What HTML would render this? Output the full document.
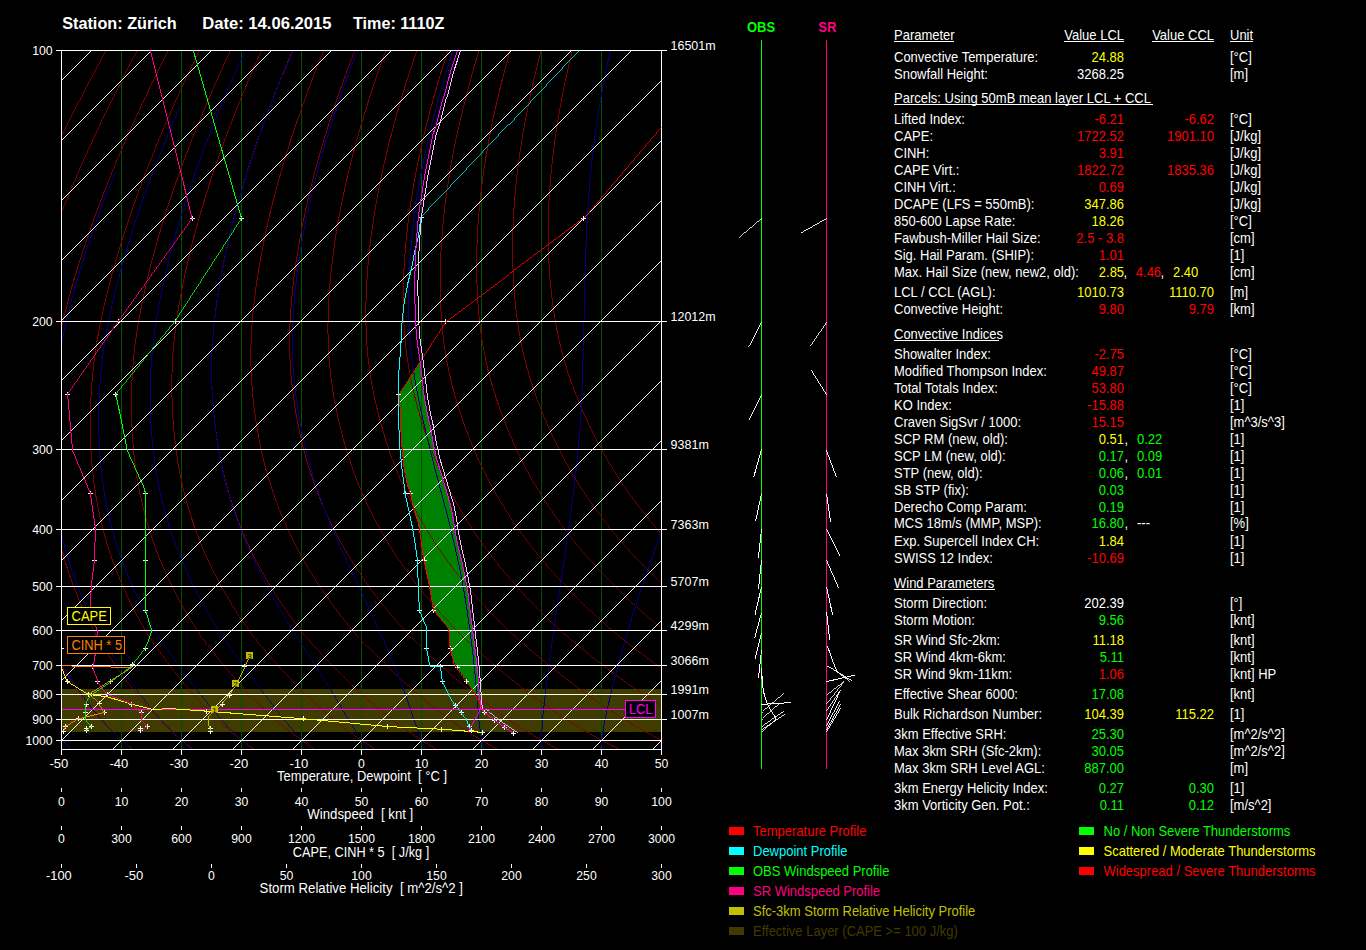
<!DOCTYPE html>
<html><head><meta charset="utf-8"><style>
html,body{margin:0;padding:0;background:#000;}
body{width:1366px;height:950px;overflow:hidden;position:relative;}
svg{position:absolute;left:0;top:0;}
text{font-family:"Liberation Sans",sans-serif;}
</style></head><body>
<svg width="1366" height="950" viewBox="0 0 1366 950" shape-rendering="crispEdges">
<clipPath id="cp"><rect x="61.5" y="50.5" width="600.0" height="699.0"/></clipPath>
<rect x="62" y="689" width="599" height="43" fill="#403c00"/>
<path d="M418.8,363.0 L418.2,364.0 L417.5,365.0 L416.9,366.0 L416.3,367.0 L415.6,368.0 L415.0,369.0 L414.3,370.0 L413.7,371.0 L413.0,372.0 L412.4,373.0 L411.8,374.0 L411.1,375.0 L410.5,376.0 L409.8,377.0 L409.2,378.0 L408.5,379.0 L407.9,380.0 L407.3,381.0 L406.6,382.0 L406.0,383.0 L405.3,384.0 L404.7,385.0 L404.0,386.0 L403.4,387.0 L402.8,388.0 L402.1,389.0 L401.5,390.0 L400.8,391.0 L400.2,392.0 L399.5,393.0 L398.9,394.0 L399.0,395.0 L399.1,396.0 L399.2,397.0 L399.3,398.0 L399.4,399.0 L399.5,400.0 L399.6,401.0 L399.7,402.0 L399.8,403.0 L399.9,404.0 L399.9,405.0 L400.0,406.0 L400.0,407.0 L400.0,408.0 L400.1,409.0 L400.1,410.0 L400.1,411.0 L400.2,412.0 L400.2,413.0 L400.2,414.0 L400.3,415.0 L400.3,416.0 L400.3,417.0 L400.4,418.0 L400.4,419.0 L400.4,420.0 L400.5,421.0 L400.5,422.0 L400.5,423.0 L400.5,424.0 L400.6,425.0 L400.6,426.0 L400.7,427.0 L400.8,428.0 L400.8,429.0 L400.9,430.0 L401.0,431.0 L401.0,432.0 L401.1,433.0 L401.2,434.0 L401.2,435.0 L401.3,436.0 L401.4,437.0 L401.4,438.0 L401.5,439.0 L401.6,440.0 L401.6,441.0 L401.7,442.0 L401.8,443.0 L401.8,444.0 L401.9,445.0 L402.0,446.0 L402.0,447.0 L402.1,448.0 L402.2,449.0 L402.3,450.0 L402.4,451.0 L402.5,452.0 L402.6,453.0 L402.7,454.0 L402.8,455.0 L402.9,456.0 L403.0,457.0 L403.1,458.0 L403.2,459.0 L403.3,460.0 L403.4,461.0 L403.5,462.0 L403.6,463.0 L403.7,464.0 L403.8,465.0 L403.9,466.0 L404.0,467.0 L404.1,468.0 L404.2,469.0 L404.3,470.0 L404.5,471.0 L404.7,472.0 L404.9,473.0 L405.2,474.0 L405.4,475.0 L405.6,476.0 L405.8,477.0 L406.0,478.0 L406.2,479.0 L406.4,480.0 L406.6,481.0 L406.9,482.0 L407.1,483.0 L407.3,484.0 L407.5,485.0 L407.9,486.0 L408.2,487.0 L408.6,488.0 L408.9,489.0 L409.3,490.0 L409.6,491.0 L410.0,492.0 L410.3,493.0 L410.6,494.0 L410.8,495.0 L411.0,496.0 L411.2,497.0 L411.4,498.0 L411.6,499.0 L411.8,500.0 L412.0,501.0 L412.2,502.0 L412.5,503.0 L412.7,504.0 L412.9,505.0 L413.1,506.0 L413.3,507.0 L413.5,508.0 L413.7,509.0 L414.1,510.0 L414.4,511.0 L414.7,512.0 L415.1,513.0 L415.4,514.0 L415.7,515.0 L416.0,516.0 L416.4,517.0 L416.7,518.0 L417.0,519.0 L417.4,520.0 L417.7,521.0 L418.0,522.0 L418.2,523.0 L418.4,524.0 L418.6,525.0 L418.8,526.0 L419.0,527.0 L419.1,528.0 L419.3,529.0 L419.5,530.0 L419.7,531.0 L419.9,532.0 L420.1,533.0 L420.2,534.0 L420.4,535.0 L420.5,536.0 L420.6,537.0 L420.7,538.0 L420.9,539.0 L421.0,540.0 L421.1,541.0 L421.2,542.0 L421.4,543.0 L421.5,544.0 L421.6,545.0 L421.7,546.0 L421.9,547.0 L422.0,548.0 L422.1,549.0 L422.2,550.0 L422.4,551.0 L422.5,552.0 L422.7,553.0 L422.9,554.0 L423.0,555.0 L423.2,556.0 L423.4,557.0 L423.6,558.0 L423.7,559.0 L423.9,560.0 L424.1,561.0 L424.3,562.0 L424.5,563.0 L424.7,564.0 L424.9,565.0 L425.1,566.0 L425.4,567.0 L425.6,568.0 L425.8,569.0 L426.0,570.0 L426.2,571.0 L426.4,572.0 L426.6,573.0 L426.9,574.0 L427.1,575.0 L427.3,576.0 L427.5,577.0 L427.7,578.0 L427.9,579.0 L428.1,580.0 L428.3,581.0 L428.6,582.0 L428.8,583.0 L429.0,584.0 L429.2,585.0 L429.4,586.0 L429.6,587.0 L429.9,588.0 L430.1,589.0 L430.3,590.0 L430.5,591.0 L430.6,592.0 L430.8,593.0 L430.9,594.0 L431.1,595.0 L431.2,596.0 L431.4,597.0 L431.5,598.0 L431.7,599.0 L431.8,600.0 L432.0,601.0 L432.1,602.0 L432.3,603.0 L432.5,604.0 L432.6,605.0 L432.8,606.0 L432.9,607.0 L433.1,608.0 L433.4,609.0 L433.6,610.0 L434.0,611.0 L434.9,612.0 L435.7,613.0 L436.5,614.0 L437.4,615.0 L438.2,616.0 L439.0,617.0 L439.9,618.0 L440.7,619.0 L441.6,620.0 L442.4,621.0 L443.2,622.0 L444.1,623.0 L444.9,624.0 L445.7,625.0 L446.6,626.0 L447.4,627.0 L448.2,628.0 L448.9,629.0 L449.0,630.0 L449.0,631.0 L449.0,632.0 L449.1,633.0 L449.1,634.0 L449.2,635.0 L449.2,636.0 L449.2,637.0 L449.3,638.0 L449.3,639.0 L449.4,640.0 L449.4,641.0 L449.5,642.0 L449.6,643.0 L449.7,644.0 L449.8,645.0 L449.9,646.0 L450.0,647.0 L450.1,648.0 L450.3,649.0 L450.5,650.0 L450.8,651.0 L451.1,652.0 L451.4,653.0 L451.6,654.0 L451.9,655.0 L452.2,656.0 L452.4,657.0 L452.7,658.0 L453.0,659.0 L453.2,660.0 L453.5,661.0 L453.8,662.0 L454.2,663.0 L454.9,664.0 L455.6,665.0 L456.3,666.0 L457.0,667.0 L457.6,668.0 L458.3,669.0 L459.0,670.0 L459.6,671.0 L460.3,672.0 L460.9,673.0 L461.6,674.0 L462.3,675.0 L462.9,676.0 L463.6,677.0 L464.3,678.0 L464.9,679.0 L465.6,680.0 L466.2,681.0 L466.9,682.0 L467.6,683.0 L468.3,684.0 L469.1,685.0 L469.8,686.0 L470.5,687.0 L471.2,688.0 L471.9,689.0 L472.6,690.0 L473.3,691.0 L474.1,692.0 L474.7,693.0 L475.2,694.0 L475.6,695.0 L476.1,696.0 L476.5,697.0 L477.0,698.0 L477.4,699.0 L477.9,700.0 L480.0,700.0 L479.9,699.0 L479.8,698.0 L479.7,697.0 L479.7,696.0 L479.6,695.0 L479.5,694.0 L479.4,693.0 L479.3,692.0 L479.2,691.0 L479.1,690.0 L479.0,689.0 L479.0,688.0 L478.9,687.0 L478.8,686.0 L478.7,685.0 L478.6,684.0 L478.6,683.0 L478.5,682.0 L478.4,681.0 L478.3,680.0 L478.3,679.0 L478.2,678.0 L478.1,677.0 L478.0,676.0 L478.0,675.0 L477.9,674.0 L477.8,673.0 L477.7,672.0 L477.6,671.0 L477.6,670.0 L477.5,669.0 L477.4,668.0 L477.2,667.0 L477.1,666.0 L477.0,665.0 L476.9,664.0 L476.7,663.0 L476.6,662.0 L476.5,661.0 L476.4,660.0 L476.2,659.0 L476.1,658.0 L476.0,657.0 L475.9,656.0 L475.7,655.0 L475.6,654.0 L475.5,653.0 L475.4,652.0 L475.2,651.0 L475.1,650.0 L475.0,649.0 L474.9,648.0 L474.8,647.0 L474.6,646.0 L474.5,645.0 L474.4,644.0 L474.3,643.0 L474.1,642.0 L474.0,641.0 L473.9,640.0 L473.8,639.0 L473.6,638.0 L473.5,637.0 L473.4,636.0 L473.3,635.0 L473.1,634.0 L473.0,633.0 L472.9,632.0 L472.8,631.0 L472.6,630.0 L472.5,629.0 L472.4,628.0 L472.3,627.0 L472.1,626.0 L472.0,625.0 L471.9,624.0 L471.7,623.0 L471.6,622.0 L471.5,621.0 L471.3,620.0 L471.2,619.0 L471.1,618.0 L470.9,617.0 L470.8,616.0 L470.7,615.0 L470.5,614.0 L470.4,613.0 L470.3,612.0 L470.1,611.0 L470.0,610.0 L469.9,609.0 L469.8,608.0 L469.6,607.0 L469.5,606.0 L469.4,605.0 L469.3,604.0 L469.2,603.0 L469.0,602.0 L468.9,601.0 L468.8,600.0 L468.7,599.0 L468.6,598.0 L468.4,597.0 L468.3,596.0 L468.2,595.0 L468.1,594.0 L468.0,593.0 L467.8,592.0 L467.7,591.0 L467.6,590.0 L467.4,589.0 L467.2,588.0 L467.0,587.0 L466.8,586.0 L466.6,585.0 L466.4,584.0 L466.2,583.0 L466.0,582.0 L465.8,581.0 L465.6,580.0 L465.3,579.0 L465.1,578.0 L464.9,577.0 L464.7,576.0 L464.5,575.0 L464.4,574.0 L464.2,573.0 L464.0,572.0 L463.8,571.0 L463.6,570.0 L463.4,569.0 L463.2,568.0 L463.0,567.0 L462.8,566.0 L462.6,565.0 L462.4,564.0 L462.2,563.0 L461.9,562.0 L461.7,561.0 L461.4,560.0 L461.2,559.0 L460.9,558.0 L460.7,557.0 L460.4,556.0 L460.2,555.0 L459.9,554.0 L459.7,553.0 L459.4,552.0 L459.2,551.0 L458.9,550.0 L458.7,549.0 L458.4,548.0 L458.2,547.0 L458.0,546.0 L457.8,545.0 L457.6,544.0 L457.4,543.0 L457.2,542.0 L457.0,541.0 L456.8,540.0 L456.6,539.0 L456.4,538.0 L456.2,537.0 L456.0,536.0 L455.8,535.0 L455.6,534.0 L455.4,533.0 L455.3,532.0 L455.1,531.0 L455.0,530.0 L454.8,529.0 L454.7,528.0 L454.5,527.0 L454.4,526.0 L454.2,525.0 L454.1,524.0 L453.9,523.0 L453.8,522.0 L453.6,521.0 L453.5,520.0 L453.3,519.0 L453.1,518.0 L452.9,517.0 L452.7,516.0 L452.5,515.0 L452.3,514.0 L452.1,513.0 L451.9,512.0 L451.7,511.0 L451.5,510.0 L451.3,509.0 L451.1,508.0 L451.0,507.0 L450.8,506.0 L450.6,505.0 L450.3,504.0 L450.0,503.0 L449.7,502.0 L449.4,501.0 L449.1,500.0 L448.8,499.0 L448.5,498.0 L448.2,497.0 L447.9,496.0 L447.6,495.0 L447.3,494.0 L447.0,493.0 L446.7,492.0 L446.4,491.0 L446.1,490.0 L445.8,489.0 L445.5,488.0 L445.2,487.0 L444.9,486.0 L444.6,485.0 L444.3,484.0 L444.0,483.0 L443.7,482.0 L443.4,481.0 L443.1,480.0 L442.8,479.0 L442.5,478.0 L442.2,477.0 L441.9,476.0 L441.6,475.0 L441.3,474.0 L441.0,473.0 L440.7,472.0 L440.4,471.0 L440.1,470.0 L439.8,469.0 L439.5,468.0 L439.2,467.0 L438.9,466.0 L438.6,465.0 L438.3,464.0 L438.0,463.0 L437.7,462.0 L437.4,461.0 L437.1,460.0 L436.8,459.0 L436.5,458.0 L436.3,457.0 L436.0,456.0 L435.8,455.0 L435.6,454.0 L435.4,453.0 L435.2,452.0 L435.0,451.0 L434.8,450.0 L434.5,449.0 L434.3,448.0 L434.1,447.0 L433.9,446.0 L433.7,445.0 L433.5,444.0 L433.2,443.0 L433.0,442.0 L432.8,441.0 L432.7,440.0 L432.5,439.0 L432.3,438.0 L432.1,437.0 L431.9,436.0 L431.8,435.0 L431.6,434.0 L431.4,433.0 L431.2,432.0 L431.0,431.0 L430.9,430.0 L430.7,429.0 L430.5,428.0 L430.3,427.0 L430.2,426.0 L429.9,425.0 L429.7,424.0 L429.5,423.0 L429.3,422.0 L429.0,421.0 L428.8,420.0 L428.6,419.0 L428.4,418.0 L428.1,417.0 L427.9,416.0 L427.7,415.0 L427.4,414.0 L427.2,413.0 L427.0,412.0 L426.8,411.0 L426.7,410.0 L426.5,409.0 L426.3,408.0 L426.1,407.0 L425.9,406.0 L425.8,405.0 L425.6,404.0 L425.4,403.0 L425.2,402.0 L425.0,401.0 L424.9,400.0 L424.7,399.0 L424.5,398.0 L424.3,397.0 L424.2,396.0 L424.1,395.0 L423.9,394.0 L423.8,393.0 L423.7,392.0 L423.6,391.0 L423.5,390.0 L423.4,389.0 L423.2,388.0 L423.1,387.0 L423.0,386.0 L422.9,385.0 L422.8,384.0 L422.7,383.0 L422.6,382.0 L422.4,381.0 L422.3,380.0 L422.2,379.0 L422.1,378.0 L422.0,377.0 L421.9,376.0 L421.7,375.0 L421.6,374.0 L421.5,373.0 L421.4,372.0 L421.2,371.0 L421.1,370.0 L421.0,369.0 L420.9,368.0 L420.7,367.0 L420.6,366.0 L420.5,365.0 L420.4,364.0 L420.2,363.0 Z" fill="#008000" stroke="none"/>
<g clip-path="url(#cp)" fill="none">
<line x1="121.5" y1="50.5" x2="121.5" y2="749.5" stroke="#005000"/>
<line x1="181.5" y1="50.5" x2="181.5" y2="749.5" stroke="#005000"/>
<line x1="241.5" y1="50.5" x2="241.5" y2="749.5" stroke="#005000"/>
<line x1="301.5" y1="50.5" x2="301.5" y2="749.5" stroke="#005000"/>
<line x1="361.5" y1="50.5" x2="361.5" y2="749.5" stroke="#005000"/>
<line x1="421.5" y1="50.5" x2="421.5" y2="749.5" stroke="#005000"/>
<line x1="481.5" y1="50.5" x2="481.5" y2="749.5" stroke="#005000"/>
<line x1="541.5" y1="50.5" x2="541.5" y2="749.5" stroke="#005000"/>
<line x1="601.5" y1="50.5" x2="601.5" y2="749.5" stroke="#005000"/>
<path d="M49.90,728.14 53.04,731.54 56.25,734.89 59.54,738.20 62.92,741.46 66.36,744.68" stroke="#800000" stroke-width="0.75" fill="none" />
<path d="M38.14,714.08 40.95,717.67 43.85,721.21 46.84,724.70 49.90,728.14 M66.36,744.68 69.89,747.85 73.50,750.98" stroke="#800000" stroke-width="0.8" fill="none" />
<path d="M22.68,691.76 25.14,695.51 27.64,699.26 30.18,703.01 32.77,706.73 35.42,710.42 38.14,714.08" stroke="#800000" stroke-width="0.85" fill="none" />
<path d="M118.72,27.80 114.39,35.52 110.12,43.20 105.92,50.84 101.77,58.43 97.69,65.98 93.67,73.48 89.71,80.94 85.81,88.36 81.97,95.73 78.19,103.07 74.47,110.35 M0.62,653.29 2.64,657.19 4.70,661.08 6.80,664.96 8.93,668.83 11.11,672.69 13.33,676.54 15.59,680.37 17.91,684.18 20.27,687.98 22.68,691.76" stroke="#800000" stroke-width="0.9" fill="none" />
<path d="M74.47,110.35 70.81,117.60 67.21,124.80 63.67,131.96 60.19,139.08 56.77,146.16 53.42,153.20 50.12,160.19 46.88,167.14 43.70,174.05 40.58,180.92 37.52,187.75 34.52,194.54 31.58,201.29 28.70,208.00 25.88,214.66 23.11,221.29 20.41,227.88 17.77,234.42 15.18,240.93 12.65,247.40 10.19,253.83 7.78,260.22 5.43,266.57 3.13,272.88 M-15.22,617.16 -13.68,621.29 -12.10,625.39 -10.46,629.46 -8.76,633.51 -7.00,637.52 -5.17,641.50 -3.29,645.45 -1.36,649.38 0.62,653.29" stroke="#800000" stroke-width="0.95" fill="none" />
<path d="M3.13,272.88 0.90,279.16 -1.28,285.39 -3.39,291.59 -5.45,297.75 -7.45,303.87 -9.39,309.95 -11.28,316.00 -13.10,322.01 -14.86,327.97 -16.53,333.86 -18.12,339.71 -19.64,345.49 -21.09,351.22 -22.46,356.91 -23.76,362.54 -25.00,368.13 -26.16,373.67 -27.27,379.16 -28.31,384.62 -29.28,390.04 -30.20,395.42 -31.07,400.77 -31.87,406.08 -32.63,411.36 -33.33,416.62 -33.99,421.85 -34.59,427.05 -35.15,432.23 -35.67,437.39 -36.15,442.53 -36.58,447.65 -36.97,452.76 -37.30,457.82 -37.57,462.85 -37.78,467.84 -37.93,472.79 -38.01,477.71 -38.05,482.59 -38.02,487.45 -37.95,492.27 -37.81,497.07 -37.63,501.84 -37.40,506.58 -37.11,511.29 -36.78,515.99 -36.40,520.66 -35.97,525.31 -35.50,529.93 -34.97,534.53 -34.39,539.10 -33.75,543.63 -33.05,548.14 -32.29,552.61 -31.49,557.06 -30.63,561.48 -29.72,565.88 -28.77,570.26 -27.76,574.62 -26.72,578.96 -25.63,583.28 -24.50,587.59 -23.32,591.88 -22.10,596.15 -20.82,600.40 -19.50,604.62 -18.12,608.83 -16.70,613.00 -15.22,617.16" stroke="#800000" stroke-width="1.0" fill="none" />
<path d="M99.01,717.67 102.20,721.21 105.47,724.70 108.82,728.14 112.25,731.54 115.76,734.89 119.35,738.20" stroke="#800000" stroke-width="0.75" fill="none" />
<path d="M87.10,703.01 89.97,706.73 92.90,710.42 95.91,714.08 99.01,717.67 M119.35,738.20 123.02,741.46 126.77,744.68 130.60,747.85 134.51,750.98" stroke="#800000" stroke-width="0.8" fill="none" />
<path d="M65.81,672.69 68.30,676.54 70.84,680.37 73.43,684.18 76.07,687.98 78.76,691.76 81.50,695.51 84.28,699.26 87.10,703.01" stroke="#800000" stroke-width="0.85" fill="none" />
<path d="M149.34,27.80 145.17,35.52 141.05,43.20 137.00,50.84 133.01,58.43 129.09,65.98 125.22,73.48 121.41,80.94 M45.32,637.52 47.40,641.50 49.54,645.45 51.74,649.38 53.98,653.29 56.27,657.19 58.59,661.08 60.96,664.96 63.36,668.83 65.81,672.69" stroke="#800000" stroke-width="0.9" fill="none" />
<path d="M121.41,80.94 117.67,88.36 113.99,95.73 110.37,103.07 106.81,110.35 103.31,117.60 99.87,124.80 96.50,131.96 93.18,139.08 89.93,146.16 86.73,153.20 83.60,160.19 80.53,167.14 77.52,174.05 74.57,180.92 71.68,187.75 68.85,194.54 66.08,201.29 63.37,208.00 60.72,214.66 58.13,221.29 55.60,227.88 53.13,234.42 50.72,240.93 48.37,247.40 M29.21,600.40 30.78,604.62 32.41,608.83 34.09,613.00 35.82,617.16 37.60,621.29 39.44,625.39 41.34,629.46 43.30,633.51 45.32,637.52" stroke="#800000" stroke-width="0.95" fill="none" />
<path d="M48.37,247.40 46.08,253.83 43.85,260.22 41.67,266.57 39.56,272.88 37.51,279.16 35.52,285.39 33.58,291.59 31.71,297.75 29.89,303.87 28.14,309.95 26.44,316.00 24.80,322.01 23.24,327.97 21.75,333.86 20.35,339.71 19.02,345.49 17.77,351.22 16.59,356.91 15.48,362.54 14.44,368.13 13.47,373.67 12.56,379.16 11.72,384.62 10.94,390.04 10.22,395.42 9.56,400.77 8.96,406.08 8.40,411.36 7.90,416.62 7.46,421.85 7.05,427.05 6.70,432.23 6.39,437.39 6.12,442.53 5.90,447.65 5.72,452.76 5.60,457.82 5.55,462.85 5.55,467.84 5.62,472.79 5.75,477.71 5.93,482.59 6.18,487.45 6.47,492.27 6.83,497.07 7.23,501.84 7.69,506.58 8.20,511.29 8.75,515.99 9.36,520.66 10.02,525.31 10.72,529.93 11.47,534.53 12.29,539.10 13.16,543.63 14.10,548.14 15.08,552.61 16.13,557.06 17.22,561.48 18.37,565.88 19.56,570.26 20.80,574.62 22.09,578.96 23.42,583.28 24.80,587.59 26.22,591.88 27.69,596.15 29.21,600.40" stroke="#800000" stroke-width="1.0" fill="none" />
<path d="M150.39,710.42 153.68,714.08 157.06,717.67 160.54,721.21 164.11,724.70 167.75,728.14 171.47,731.54" stroke="#800000" stroke-width="0.75" fill="none" />
<path d="M131.87,687.98 134.83,691.76 137.85,695.51 140.91,699.26 144.01,703.01 147.17,706.73 150.39,710.42 M171.47,731.54 175.28,734.89 179.16,738.20 183.13,741.46 187.18,744.68" stroke="#800000" stroke-width="0.8" fill="none" />
<path d="M107.34,653.29 109.89,657.19 112.49,661.08 115.12,664.96 117.80,668.83 120.51,672.69 123.28,676.54 126.09,680.37 128.95,684.18 131.87,687.98 M187.18,744.68 191.30,747.85 195.51,750.98" stroke="#800000" stroke-width="0.85" fill="none" />
<path d="M179.97,27.80 175.95,35.52 171.99,43.20 168.09,50.84 M88.89,621.29 90.99,625.39 93.14,629.46 95.36,633.51 97.64,637.52 99.98,641.50 102.38,645.45 104.84,649.38 107.34,653.29" stroke="#800000" stroke-width="0.9" fill="none" />
<path d="M168.09,50.84 164.25,58.43 160.48,65.98 156.77,73.48 153.12,80.94 149.54,88.36 146.01,95.73 142.55,103.07 139.15,110.35 135.81,117.60 132.54,124.80 129.32,131.96 126.17,139.08 123.08,146.16 120.05,153.20 117.09,160.19 114.18,167.14 111.34,174.05 108.55,180.92 105.83,187.75 103.17,194.54 100.57,201.29 98.03,208.00 95.56,214.66 93.14,221.29 M70.90,578.96 72.47,583.28 74.09,587.59 75.76,591.88 77.48,596.15 79.24,600.40 81.07,604.62 82.94,608.83 84.87,613.00 86.85,617.16 88.89,621.29" stroke="#800000" stroke-width="0.95" fill="none" />
<path d="M93.14,221.29 90.78,227.88 88.49,234.42 86.25,240.93 84.08,247.40 81.97,253.83 79.92,260.22 77.92,266.57 75.99,272.88 74.12,279.16 72.31,285.39 70.56,291.59 68.87,297.75 67.24,303.87 65.67,309.95 64.15,316.00 62.70,322.01 61.33,327.97 60.03,333.86 58.82,339.71 57.68,345.49 56.62,351.22 55.63,356.91 54.72,362.54 53.88,368.13 53.10,373.67 52.39,379.16 51.75,384.62 51.17,390.04 50.65,395.42 50.19,400.77 49.78,406.08 49.44,411.36 49.14,416.62 48.90,421.85 48.70,427.05 48.55,432.23 48.45,437.39 48.40,442.53 48.38,447.65 48.41,452.76 48.51,457.82 48.67,462.85 48.89,467.84 49.17,472.79 49.51,477.71 49.92,482.59 50.38,487.45 50.89,492.27 51.47,497.07 52.09,501.84 52.77,506.58 53.51,511.29 54.29,515.99 55.12,520.66 56.00,525.31 56.93,529.93 57.92,534.53 58.97,539.10 60.07,543.63 61.24,548.14 62.46,552.61 63.74,557.06 65.07,561.48 66.45,565.88 67.89,570.26 69.37,574.62 70.90,578.96" stroke="#800000" stroke-width="1.0" fill="none" />
<path d="M197.55,699.26 200.93,703.01 204.37,706.73 207.87,710.42 211.45,714.08 215.12,717.67 218.89,721.21 222.74,724.70" stroke="#800000" stroke-width="0.75" fill="none" />
<path d="M172.23,668.83 175.22,672.69 178.25,676.54 181.34,680.37 184.47,684.18 187.66,687.98 190.91,691.76 194.21,695.51 197.55,699.26 M222.74,724.70 226.68,728.14 230.69,731.54 234.79,734.89 238.97,738.20" stroke="#800000" stroke-width="0.8" fill="none" />
<path d="M149.95,637.52 152.55,641.50 155.22,645.45 157.94,649.38 160.71,653.29 163.52,657.19 166.39,661.08 169.29,664.96 172.23,668.83 M238.97,738.20 243.23,741.46 247.58,744.68 252.01,747.85 256.52,750.98" stroke="#800000" stroke-width="0.85" fill="none" />
<path d="M133.47,608.83 135.65,613.00 137.89,617.16 140.18,621.29 142.53,625.39 144.94,629.46 147.41,633.51 149.95,637.52" stroke="#800000" stroke-width="0.9" fill="none" />
<path d="M210.59,27.80 206.72,35.52 202.92,43.20 199.17,50.84 195.49,58.43 191.87,65.98 188.32,73.48 184.83,80.94 181.40,88.36 178.04,95.73 174.73,103.07 171.49,110.35 168.32,117.60 165.20,124.80 162.15,131.96 159.16,139.08 156.24,146.16 153.37,153.20 150.57,160.19 147.83,167.14 145.15,174.05 142.54,180.92 139.99,187.75 137.50,194.54 M112.92,561.48 114.54,565.88 116.21,570.26 117.93,574.62 119.70,578.96 121.52,583.28 123.38,587.59 125.30,591.88 127.26,596.15 129.28,600.40 131.35,604.62 133.47,608.83" stroke="#800000" stroke-width="0.95" fill="none" />
<path d="M137.50,194.54 135.07,201.29 132.70,208.00 130.40,214.66 128.15,221.29 125.97,227.88 123.85,234.42 121.79,240.93 119.79,247.40 117.86,253.83 115.98,260.22 114.17,266.57 112.42,272.88 110.73,279.16 109.10,285.39 107.53,291.59 106.03,297.75 104.58,303.87 103.19,309.95 101.87,316.00 100.61,322.01 99.42,327.97 98.31,333.86 97.29,339.71 96.34,345.49 95.47,351.22 94.68,356.91 93.96,362.54 93.31,368.13 92.73,373.67 92.22,379.16 91.78,384.62 91.40,390.04 91.08,395.42 90.82,400.77 90.61,406.08 90.47,411.36 90.38,416.62 90.34,421.85 90.35,427.05 90.41,432.23 90.52,437.39 90.67,442.53 90.86,447.65 91.10,452.76 91.41,457.82 91.78,462.85 92.22,467.84 92.72,472.79 93.28,477.71 93.90,482.59 94.58,487.45 95.31,492.27 96.11,497.07 96.96,501.84 97.86,506.58 98.82,511.29 99.82,515.99 100.88,520.66 101.99,525.31 103.15,529.93 104.37,534.53 105.64,539.10 106.98,543.63 108.38,548.14 109.84,552.61 111.35,557.06 112.92,561.48" stroke="#800000" stroke-width="1.0" fill="none" />
<path d="M240.00,684.18 243.46,687.98 246.98,691.76 250.56,695.51 254.18,699.26 257.85,703.01 261.57,706.73 265.35,710.42 269.22,714.08 273.18,717.67" stroke="#800000" stroke-width="0.75" fill="none" />
<path d="M211.04,649.38 214.07,653.29 217.15,657.19 220.28,661.08 223.45,664.96 226.66,668.83 229.92,672.69 233.23,676.54 236.59,680.37 240.00,684.18 M273.18,717.67 277.23,721.21 281.38,724.70 285.60,728.14 289.91,731.54" stroke="#800000" stroke-width="0.8" fill="none" />
<path d="M194.07,625.39 196.74,629.46 199.47,633.51 202.27,637.52 205.13,641.50 208.05,645.45 211.04,649.38 M289.91,731.54 294.30,734.89 298.78,738.20 303.34,741.46 307.99,744.68 312.71,747.85 317.53,750.98" stroke="#800000" stroke-width="0.85" fill="none" />
<path d="M174.84,591.88 177.05,596.15 179.31,600.40 181.63,604.62 184.00,608.83 186.43,613.00 188.92,617.16 191.47,621.29 194.07,625.39" stroke="#800000" stroke-width="0.9" fill="none" />
<path d="M241.22,27.80 237.50,35.52 233.85,43.20 230.26,50.84 226.73,58.43 223.27,65.98 219.87,73.48 216.54,80.94 213.27,88.36 210.06,95.73 206.92,103.07 203.84,110.35 200.82,117.60 197.87,124.80 194.98,131.96 192.15,139.08 189.39,146.16 186.69,153.20 184.06,160.19 181.48,167.14 178.97,174.05 M153.89,543.63 155.52,548.14 157.22,552.61 158.96,557.06 160.77,561.48 162.63,565.88 164.54,570.26 166.50,574.62 168.51,578.96 170.57,583.28 172.68,587.59 174.84,591.88" stroke="#800000" stroke-width="0.95" fill="none" />
<path d="M178.97,174.05 176.53,180.92 174.14,187.75 171.82,194.54 169.56,201.29 167.37,208.00 165.23,214.66 163.16,221.29 161.16,227.88 159.21,234.42 157.33,240.93 155.51,247.40 153.75,253.83 152.05,260.22 150.42,266.57 148.85,272.88 147.34,279.16 145.89,285.39 144.51,291.59 143.18,297.75 141.92,303.87 140.72,309.95 139.59,316.00 138.51,322.01 137.51,327.97 136.59,333.86 135.76,339.71 135.01,345.49 134.33,351.22 133.73,356.91 133.20,362.54 132.75,368.13 132.37,373.67 132.05,379.16 131.81,384.62 131.62,390.04 131.50,395.42 131.44,400.77 131.44,406.08 131.50,411.36 131.61,416.62 131.78,421.85 132.00,427.05 132.26,432.23 132.58,437.39 132.94,442.53 133.34,447.65 133.80,452.76 134.32,457.82 134.90,462.85 135.55,467.84 136.27,472.79 137.04,477.71 137.88,482.59 138.78,487.45 139.73,492.27 140.75,497.07 141.82,501.84 142.94,506.58 144.13,511.29 145.36,515.99 146.64,520.66 147.98,525.31 149.37,529.93 150.81,534.53 152.32,539.10 153.89,543.63" stroke="#800000" stroke-width="1.0" fill="none" />
<path d="M281.09,668.83 284.62,672.69 288.20,676.54 291.83,680.37 295.52,684.18 299.26,687.98 303.06,691.76 306.92,695.51 310.82,699.26 314.76,703.01 318.77,706.73 322.84,710.42" stroke="#800000" stroke-width="0.75" fill="none" />
<path d="M254.58,637.52 257.71,641.50 260.89,645.45 264.14,649.38 267.43,653.29 270.78,657.19 274.18,661.08 277.61,664.96 281.09,668.83 M322.84,710.42 326.99,714.08 331.23,717.67 335.58,721.21 340.01,724.70" stroke="#800000" stroke-width="0.8" fill="none" />
<path d="M234.53,608.83 237.22,613.00 239.96,617.16 242.76,621.29 245.62,625.39 248.54,629.46 251.53,633.51 254.58,637.52 M340.01,724.70 344.53,728.14 349.13,731.54 353.82,734.89 358.59,738.20 363.45,741.46 368.39,744.68" stroke="#800000" stroke-width="0.85" fill="none" />
<path d="M215.07,574.62 217.32,578.96 219.62,583.28 221.97,587.59 224.37,591.88 226.83,596.15 229.34,600.40 231.91,604.62 234.53,608.83 M368.39,744.68 373.42,747.85 378.54,750.98" stroke="#800000" stroke-width="0.9" fill="none" />
<path d="M271.85,27.80 268.28,35.52 264.78,43.20 261.34,50.84 257.97,58.43 254.66,65.98 251.42,73.48 248.24,80.94 245.13,88.36 242.08,95.73 239.10,103.07 236.18,110.35 233.32,117.60 230.53,124.80 227.81,131.96 225.14,139.08 222.55,146.16 M195.58,529.93 197.26,534.53 199.00,539.10 200.80,543.63 202.67,548.14 204.59,552.61 206.58,557.06 208.62,561.48 210.71,565.88 212.86,570.26 215.07,574.62" stroke="#800000" stroke-width="0.95" fill="none" />
<path d="M222.55,146.16 220.01,153.20 217.54,160.19 215.13,167.14 212.79,174.05 210.51,180.92 208.30,187.75 206.15,194.54 204.06,201.29 202.03,208.00 200.07,214.66 198.18,221.29 196.34,227.88 194.57,234.42 192.87,240.93 191.22,247.40 189.64,253.83 188.12,260.22 186.67,266.57 185.28,272.88 183.95,279.16 182.69,285.39 181.48,291.59 180.34,297.75 179.27,303.87 178.25,309.95 177.30,316.00 176.41,322.01 175.60,327.97 174.87,333.86 174.23,339.71 173.67,345.49 173.18,351.22 172.78,356.91 172.44,362.54 172.19,368.13 172.00,373.67 171.88,379.16 171.83,384.62 171.85,390.04 171.93,395.42 172.07,400.77 172.27,406.08 172.53,411.36 172.85,416.62 173.22,421.85 173.64,427.05 174.12,432.23 174.64,437.39 175.21,442.53 175.82,447.65 176.49,452.76 177.22,457.82 178.02,462.85 178.88,467.84 179.81,472.79 180.81,477.71 181.86,482.59 182.98,487.45 184.15,492.27 185.39,497.07 186.68,501.84 188.03,506.58 189.43,511.29 190.89,515.99 192.41,520.66 193.97,525.31 195.58,529.93" stroke="#800000" stroke-width="1.0" fill="none" />
<path d="M317.23,649.38 320.80,653.29 324.41,657.19 328.07,661.08 331.78,664.96 335.53,668.83 339.32,672.69 343.18,676.54 347.08,680.37 351.04,684.18 355.06,687.98 359.14,691.76 363.27,695.51" stroke="#800000" stroke-width="0.75" fill="none" />
<path d="M297.16,625.39 300.34,629.46 303.58,633.51 306.90,637.52 310.28,641.50 313.73,645.45 317.23,649.38 M363.27,695.51 367.45,699.26 371.68,703.01 375.96,706.73 380.32,710.42 384.76,714.08 389.29,717.67" stroke="#800000" stroke-width="0.8" fill="none" />
<path d="M276.62,596.15 279.37,600.40 282.19,604.62 285.07,608.83 288.00,613.00 290.99,617.16 294.05,621.29 297.16,625.39 M389.29,717.67 393.92,721.21 398.65,724.70 403.46,728.14 408.35,731.54 413.33,734.89 418.40,738.20" stroke="#800000" stroke-width="0.85" fill="none" />
<path d="M254.19,557.06 256.47,561.48 258.80,565.88 261.19,570.26 263.63,574.62 266.13,578.96 268.67,583.28 271.27,587.59 273.91,591.88 276.62,596.15 M418.40,738.20 423.55,741.46 428.80,744.68 434.13,747.85 439.54,750.98" stroke="#800000" stroke-width="0.9" fill="none" />
<path d="M302.47,27.80 299.06,35.52 295.71,43.20 292.43,50.84 289.21,58.43 286.06,65.98 282.97,73.48 279.95,80.94 277.00,88.36 274.11,95.73 271.28,103.07 268.52,110.35 265.83,117.60 263.20,124.80 M236.43,515.99 238.17,520.66 239.96,525.31 241.80,529.93 243.71,534.53 245.68,539.10 247.71,543.63 249.81,548.14 251.97,552.61 254.19,557.06" stroke="#800000" stroke-width="0.95" fill="none" />
<path d="M263.20,124.80 260.63,131.96 258.13,139.08 255.70,146.16 253.33,153.20 251.02,160.19 248.78,167.14 246.61,174.05 244.50,180.92 242.45,187.75 240.47,194.54 238.55,201.29 236.70,208.00 234.91,214.66 233.19,221.29 231.53,227.88 229.93,234.42 228.40,240.93 226.94,247.40 225.53,253.83 224.19,260.22 222.92,266.57 221.71,272.88 220.56,279.16 219.48,285.39 218.46,291.59 217.50,297.75 216.61,303.87 215.78,309.95 215.02,316.00 214.32,322.01 213.69,327.97 213.16,333.86 212.70,339.71 212.33,345.49 212.04,351.22 211.82,356.91 211.69,362.54 211.62,368.13 211.63,373.67 211.71,379.16 211.86,384.62 212.08,390.04 212.36,395.42 212.70,400.77 213.10,406.08 213.57,411.36 214.09,416.62 214.66,421.85 215.29,427.05 215.97,432.23 216.70,437.39 217.48,442.53 218.30,447.65 219.18,452.76 220.12,457.82 221.14,462.85 222.22,467.84 223.36,472.79 224.57,477.71 225.84,482.59 227.18,487.45 228.57,492.27 230.03,497.07 231.54,501.84 233.12,506.58 234.74,511.29 236.43,515.99" stroke="#800000" stroke-width="1.0" fill="none" />
<path d="M359.21,637.52 362.86,641.50 366.57,645.45 370.33,649.38 374.16,653.29 378.04,657.19 381.97,661.08 385.94,664.96 389.96,668.83 394.03,672.69 398.15,676.54 402.33,680.37" stroke="#800000" stroke-width="0.75" fill="none" />
<path d="M338.78,613.00 342.03,617.16 345.33,621.29 348.70,625.39 352.14,629.46 355.64,633.51 359.21,637.52 M402.33,680.37 406.57,684.18 410.86,687.98 415.21,691.76 419.63,695.51 424.09,699.26 428.60,703.01 433.16,706.73 437.80,710.42 442.53,714.08" stroke="#800000" stroke-width="0.8" fill="none" />
<path d="M314.93,578.96 317.72,583.28 320.56,587.59 323.45,591.88 326.40,596.15 329.41,600.40 332.47,604.62 335.60,608.83 338.78,613.00 M442.53,714.08 447.35,717.67 452.27,721.21 457.28,724.70 462.38,728.14 467.57,731.54" stroke="#800000" stroke-width="0.85" fill="none" />
<path d="M294.62,543.63 296.95,548.14 299.35,552.61 301.80,557.06 304.32,561.48 306.89,565.88 309.52,570.26 312.20,574.62 314.93,578.96 M467.57,731.54 472.84,734.89 478.21,738.20 483.66,741.46 489.20,744.68 494.83,747.85 500.55,750.98" stroke="#800000" stroke-width="0.9" fill="none" />
<path d="M333.10,27.80 329.84,35.52 326.64,43.20 323.51,50.84 320.45,58.43 317.45,65.98 314.52,73.48 311.66,80.94 308.86,88.36 306.13,95.73 303.46,103.07 M274.67,497.07 276.41,501.84 278.20,506.58 280.05,511.29 281.96,515.99 283.93,520.66 285.95,525.31 288.02,529.93 290.15,534.53 292.35,539.10 294.62,543.63" stroke="#800000" stroke-width="0.95" fill="none" />
<path d="M303.46,103.07 300.86,110.35 298.33,117.60 295.86,124.80 293.46,131.96 291.12,139.08 288.85,146.16 286.65,153.20 284.51,160.19 282.44,167.14 280.43,174.05 278.49,180.92 276.61,187.75 274.80,194.54 273.05,201.29 271.37,208.00 269.75,214.66 268.20,221.29 266.72,227.88 265.30,234.42 263.94,240.93 262.65,247.40 261.42,253.83 260.26,260.22 259.17,266.57 258.14,272.88 257.17,279.16 256.27,285.39 255.43,291.59 254.66,297.75 253.95,303.87 253.31,309.95 252.73,316.00 252.22,322.01 251.78,327.97 251.44,333.86 251.17,339.71 250.99,345.49 250.89,351.22 250.87,356.91 250.93,362.54 251.06,368.13 251.27,373.67 251.54,379.16 251.89,384.62 252.30,390.04 252.78,395.42 253.33,400.77 253.93,406.08 254.60,411.36 255.32,416.62 256.10,421.85 256.94,427.05 257.83,432.23 258.76,437.39 259.75,442.53 260.79,447.65 261.87,452.76 263.03,457.82 264.25,462.85 265.55,467.84 266.91,472.79 268.33,477.71 269.82,482.59 271.38,487.45 272.99,492.27 274.67,497.07" stroke="#800000" stroke-width="1.0" fill="none" />
<path d="M400.25,625.39 403.94,629.46 407.70,633.51 411.53,637.52 415.43,641.50 419.40,645.45 423.43,649.38 427.52,653.29 431.67,657.19 435.86,661.08 440.10,664.96 444.39,668.83" stroke="#800000" stroke-width="0.75" fill="none" />
<path d="M379.44,600.40 382.75,604.62 386.13,608.83 389.56,613.00 393.06,617.16 396.62,621.29 400.25,625.39 M444.39,668.83 448.73,672.69 453.13,676.54 457.58,680.37 462.09,684.18 466.66,687.98 471.29,691.76 475.98,695.51 480.72,699.26 485.51,703.01" stroke="#800000" stroke-width="0.8" fill="none" />
<path d="M354.97,565.88 357.84,570.26 360.76,574.62 363.74,578.96 366.77,583.28 369.85,587.59 372.99,591.88 376.19,596.15 379.44,600.40 M485.51,703.01 490.36,706.73 495.29,710.42 500.30,714.08 505.40,717.67 510.61,721.21 515.92,724.70" stroke="#800000" stroke-width="0.85" fill="none" />
<path d="M334.24,529.93 336.60,534.53 339.03,539.10 341.53,543.63 344.10,548.14 346.72,552.61 349.41,557.06 352.16,561.48 354.97,565.88 M515.92,724.70 521.31,728.14 526.79,731.54 532.36,734.89 538.02,738.20 543.77,741.46 549.61,744.68 555.54,747.85 561.56,750.98" stroke="#800000" stroke-width="0.9" fill="none" />
<path d="M363.72,27.80 360.61,35.52 357.57,43.20 354.60,50.84 351.69,58.43 348.85,65.98 346.07,73.48 343.37,80.94 M313.81,482.59 315.58,487.45 317.41,492.27 319.31,497.07 321.27,501.84 323.29,506.58 325.36,511.29 327.50,515.99 329.69,520.66 331.93,525.31 334.24,529.93" stroke="#800000" stroke-width="0.95" fill="none" />
<path d="M343.37,80.94 340.72,88.36 338.15,95.73 335.65,103.07 333.21,110.35 330.83,117.60 328.53,124.80 326.29,131.96 324.11,139.08 322.01,146.16 319.97,153.20 317.99,160.19 316.09,167.14 314.25,174.05 312.47,180.92 310.76,187.75 309.12,194.54 307.55,201.29 306.04,208.00 304.59,214.66 303.21,221.29 301.90,227.88 300.66,234.42 299.48,240.93 298.36,247.40 297.32,253.83 296.33,260.22 295.42,266.57 294.57,272.88 293.78,279.16 293.06,285.39 292.41,291.59 291.82,297.75 291.30,303.87 290.84,309.95 290.45,316.00 290.12,322.01 289.88,327.97 289.72,333.86 289.64,339.71 289.65,345.49 289.75,351.22 289.92,356.91 290.17,362.54 290.50,368.13 290.90,373.67 291.37,379.16 291.92,384.62 292.53,390.04 293.21,395.42 293.95,400.77 294.76,406.08 295.63,411.36 296.56,416.62 297.54,421.85 298.58,427.05 299.68,432.23 300.83,437.39 302.02,442.53 303.27,447.65 304.57,452.76 305.93,457.82 307.37,462.85 308.88,467.84 310.46,472.79 312.10,477.71 313.81,482.59" stroke="#800000" stroke-width="1.0" fill="none" />
<path d="M440.35,613.00 444.10,617.16 447.91,621.29 451.79,625.39 455.74,629.46 459.75,633.51 463.85,637.52 468.01,641.50 472.24,645.45 476.53,649.38" stroke="#800000" stroke-width="0.75" fill="none" />
<path d="M415.82,583.28 419.15,587.59 422.53,591.88 425.97,596.15 429.47,600.40 433.04,604.62 436.66,608.83 440.35,613.00 M476.53,649.38 480.89,653.29 485.30,657.19 489.76,661.08 494.27,664.96 498.82,668.83 503.43,672.69 508.10,676.54 512.83,680.37 517.61,684.18 522.46,687.98" stroke="#800000" stroke-width="0.8" fill="none" />
<path d="M394.10,552.61 397.03,557.06 400.01,561.48 403.06,565.88 406.17,570.26 409.33,574.62 412.55,578.96 415.82,583.28 M522.46,687.98 527.36,691.76 532.34,695.51 537.36,699.26 542.43,703.01 547.56,706.73 552.77,710.42 558.07,714.08 563.46,717.67 568.96,721.21" stroke="#800000" stroke-width="0.85" fill="none" />
<path d="M373.03,515.99 375.45,520.66 377.92,525.31 380.45,529.93 383.05,534.53 385.71,539.10 388.44,543.63 391.24,548.14 394.10,552.61 M568.96,721.21 574.55,724.70 580.23,728.14 586.01,731.54 591.87,734.89 597.83,738.20 603.87,741.46 610.01,744.68" stroke="#800000" stroke-width="0.9" fill="none" />
<path d="M394.35,27.80 391.39,35.52 388.50,43.20 385.68,50.84 382.93,58.43 M352.21,467.84 354.00,472.79 355.86,477.71 357.79,482.59 359.78,487.45 361.83,492.27 363.95,497.07 366.13,501.84 368.37,506.58 370.67,511.29 373.03,515.99 M610.01,744.68 616.24,747.85 622.56,750.98" stroke="#800000" stroke-width="0.95" fill="none" />
<path d="M382.93,58.43 380.24,65.98 377.62,73.48 375.07,80.94 372.59,88.36 370.17,95.73 367.83,103.07 365.55,110.35 363.34,117.60 361.19,124.80 359.11,131.96 357.10,139.08 355.16,146.16 353.29,153.20 351.48,160.19 349.74,167.14 348.06,174.05 346.46,180.92 344.92,187.75 343.45,194.54 342.04,201.29 340.70,208.00 339.43,214.66 338.23,221.29 337.09,227.88 336.02,234.42 335.01,240.93 334.08,247.40 333.21,253.83 332.40,260.22 331.67,266.57 331.00,272.88 330.39,279.16 329.85,285.39 329.38,291.59 328.98,297.75 328.64,303.87 328.37,309.95 328.16,316.00 328.03,322.01 327.97,327.97 328.00,333.86 328.11,339.71 328.32,345.49 328.60,351.22 328.97,356.91 329.41,362.54 329.93,368.13 330.53,373.67 331.20,379.16 331.94,384.62 332.75,390.04 333.63,395.42 334.58,400.77 335.59,406.08 336.66,411.36 337.79,416.62 338.98,421.85 340.23,427.05 341.53,432.23 342.89,437.39 344.29,442.53 345.75,447.65 347.26,452.76 348.84,457.82 350.49,462.85 352.21,467.84" stroke="#800000" stroke-width="1.0" fill="none" />
<path d="M479.51,600.40 483.32,604.62 487.19,608.83 491.13,613.00 495.13,617.16 499.20,621.29 503.33,625.39 507.54,629.46 511.81,633.51 516.16,637.52" stroke="#800000" stroke-width="0.75" fill="none" />
<path d="M454.49,570.26 457.90,574.62 461.36,578.96 464.87,583.28 468.44,587.59 472.07,591.88 475.76,596.15 479.51,600.40 M516.16,637.52 520.58,641.50 525.08,645.45 529.63,649.38 534.25,653.29 538.93,657.19 543.65,661.08 548.43,664.96 553.25,668.83 558.14,672.69 563.08,676.54" stroke="#800000" stroke-width="0.8" fill="none" />
<path d="M432.39,539.10 435.35,543.63 438.38,548.14 441.48,552.61 444.64,557.06 447.86,561.48 451.15,565.88 454.49,570.26 M563.08,676.54 568.07,680.37 573.13,684.18 578.25,687.98 583.44,691.76 588.69,695.51 593.99,699.26 599.34,703.01 604.76,706.73 610.25,710.42 615.83,714.08" stroke="#800000" stroke-width="0.85" fill="none" />
<path d="M410.99,501.84 413.46,506.58 415.98,511.29 418.57,515.99 421.21,520.66 423.91,525.31 426.67,529.93 429.49,534.53 432.39,539.10 M615.83,714.08 621.51,717.67 627.30,721.21 633.19,724.70 639.16,728.14 645.23,731.54 651.39,734.89 657.64,738.20 663.98,741.46" stroke="#800000" stroke-width="0.9" fill="none" />
<path d="M424.97,27.80 422.17,35.52 M391.74,457.82 393.61,462.85 395.54,467.84 397.55,472.79 399.63,477.71 401.77,482.59 403.98,487.45 406.25,492.27 408.59,497.07 410.99,501.84 M663.98,741.46 670.42,744.68 676.95,747.85 683.57,750.98" stroke="#800000" stroke-width="0.95" fill="none" />
<path d="M422.17,35.52 419.43,43.20 416.76,50.84 414.17,58.43 411.64,65.98 409.17,73.48 406.78,80.94 404.45,88.36 402.20,95.73 400.01,103.07 397.89,110.35 395.84,117.60 393.86,124.80 391.94,131.96 390.09,139.08 388.32,146.16 386.61,153.20 384.96,160.19 383.39,167.14 381.88,174.05 380.44,180.92 379.07,187.75 377.77,194.54 376.54,201.29 375.37,208.00 374.27,214.66 373.24,221.29 372.28,227.88 371.38,234.42 370.55,240.93 369.79,247.40 369.10,253.83 368.47,260.22 367.91,266.57 367.42,272.88 367.00,279.16 366.65,285.39 366.36,291.59 366.14,297.75 365.98,303.87 365.90,309.95 365.88,316.00 365.93,322.01 366.06,327.97 366.28,333.86 366.59,339.71 366.98,345.49 367.46,351.22 368.01,356.91 368.65,362.54 369.37,368.13 370.16,373.67 371.03,379.16 371.97,384.62 372.98,390.04 374.06,395.42 375.21,400.77 376.42,406.08 377.69,411.36 379.03,416.62 380.43,421.85 381.88,427.05 383.39,432.23 384.95,437.39 386.57,442.53 388.23,447.65 389.95,452.76 391.74,457.82" stroke="#800000" stroke-width="1.0" fill="none" />
<path d="M517.74,587.59 521.61,591.88 525.54,596.15 529.54,600.40 533.60,604.62 537.72,608.83 541.91,613.00 546.17,617.16 550.49,621.29 554.88,625.39 559.34,629.46" stroke="#800000" stroke-width="0.75" fill="none" />
<path d="M492.25,557.06 495.71,561.48 499.24,565.88 502.82,570.26 506.46,574.62 510.16,578.96 513.92,583.28 517.74,587.59 M559.34,629.46 563.87,633.51 568.48,637.52 573.16,641.50 577.91,645.45 582.73,649.38 587.61,653.29 592.55,657.19 597.55,661.08" stroke="#800000" stroke-width="0.8" fill="none" />
<path d="M469.90,525.31 472.89,529.93 475.94,534.53 479.06,539.10 482.26,543.63 485.52,548.14 488.86,552.61 492.25,557.06 M597.55,661.08 602.59,664.96 607.69,668.83 612.84,672.69 618.05,676.54 623.32,680.37 628.66,684.18 634.05,687.98 639.52,691.76 645.04,695.51 650.63,699.26 656.26,703.01 661.96,706.73" stroke="#800000" stroke-width="0.85" fill="none" />
<path d="M448.18,487.45 450.67,492.27 453.23,497.07 455.86,501.84 458.54,506.58 461.29,511.29 464.10,515.99 466.97,520.66 469.90,525.31 M661.96,706.73 667.74,710.42 673.60,714.08 679.57,717.67 685.65,721.21 691.82,724.70 698.09,728.14 704.45,731.54 710.90,734.89" stroke="#800000" stroke-width="0.9" fill="none" />
<path d="M428.84,442.53 430.71,447.65 432.64,452.76 434.65,457.82 436.73,462.85 438.88,467.84 441.10,472.79 443.39,477.71 445.75,482.59 448.18,487.45 M710.90,734.89 717.45,738.20 724.09,741.46 730.82,744.68 737.65,747.85 744.58,750.98" stroke="#800000" stroke-width="0.95" fill="none" />
<path d="M455.60,27.80 452.95,35.52 450.36,43.20 447.85,50.84 445.40,58.43 443.03,65.98 440.72,73.48 438.49,80.94 436.32,88.36 434.22,95.73 432.19,103.07 430.23,110.35 428.34,117.60 426.52,124.80 424.77,131.96 423.08,139.08 421.47,146.16 419.92,153.20 418.45,160.19 417.04,167.14 415.70,174.05 414.43,180.92 413.23,187.75 412.10,194.54 411.03,201.29 410.04,208.00 409.11,214.66 408.25,221.29 407.46,227.88 406.74,234.42 406.09,240.93 405.50,247.40 404.99,253.83 404.54,260.22 404.16,266.57 403.85,272.88 403.61,279.16 403.44,285.39 403.33,291.59 403.30,297.75 403.33,303.87 403.43,309.95 403.60,316.00 403.83,322.01 404.15,327.97 404.56,333.86 405.06,339.71 405.64,345.49 406.31,351.22 407.06,356.91 407.89,362.54 408.81,368.13 409.80,373.67 410.86,379.16 412.00,384.62 413.21,390.04 414.49,395.42 415.84,400.77 417.25,406.08 418.73,411.36 420.27,416.62 421.87,421.85 423.53,427.05 425.24,432.23 427.01,437.39 428.84,442.53" stroke="#800000" stroke-width="1.0" fill="none" />
<path d="M555.03,574.62 558.97,578.96 562.97,583.28 567.03,587.59 571.15,591.88 575.33,596.15 579.57,600.40 583.88,604.62 588.25,608.83 592.69,613.00 597.20,617.16 601.78,621.29" stroke="#800000" stroke-width="0.75" fill="none" />
<path d="M529.17,543.63 532.67,548.14 536.23,552.61 539.86,557.06 543.56,561.48 547.32,565.88 551.15,570.26 555.03,574.62 M601.78,621.29 606.42,625.39 611.14,629.46 615.93,633.51 620.79,637.52 625.74,641.50 630.75,645.45 635.83,649.38" stroke="#800000" stroke-width="0.8" fill="none" />
<path d="M506.60,511.29 509.64,515.99 512.73,520.66 515.89,525.31 519.10,529.93 522.39,534.53 525.74,539.10 529.17,543.63 M635.83,649.38 640.98,653.29 646.18,657.19 651.44,661.08 656.76,664.96 662.12,668.83 667.54,672.69 673.03,676.54 678.57,680.37 684.18,684.18 689.85,687.98 695.59,691.76 701.40,695.51" stroke="#800000" stroke-width="0.85" fill="none" />
<path d="M484.65,472.79 487.15,477.71 489.73,482.59 492.38,487.45 495.09,492.27 497.87,497.07 500.72,501.84 503.63,506.58 506.60,511.29 M701.40,695.51 707.26,699.26 713.18,703.01 719.16,706.73 725.22,710.42 731.37,714.08 737.63,717.67 743.99,721.21 750.46,724.70 757.01,728.14 763.66,731.54" stroke="#800000" stroke-width="0.9" fill="none" />
<path d="M465.17,427.05 467.10,432.23 469.07,437.39 471.11,442.53 473.19,447.65 475.34,452.76 477.55,457.82 479.84,462.85 482.21,467.84 484.65,472.79 M763.66,731.54 770.41,734.89 777.25,738.20 784.19,741.46 791.23,744.68 798.36,747.85 805.59,750.98" stroke="#800000" stroke-width="0.95" fill="none" />
<path d="M486.23,27.80 483.73,35.52 481.29,43.20 478.93,50.84 476.64,58.43 474.42,65.98 472.27,73.48 470.19,80.94 468.18,88.36 466.24,95.73 464.38,103.07 462.58,110.35 460.85,117.60 459.19,124.80 457.60,131.96 456.07,139.08 454.62,146.16 453.24,153.20 451.93,160.19 450.69,167.14 449.52,174.05 448.42,180.92 447.38,187.75 446.42,194.54 445.53,201.29 444.70,208.00 443.95,214.66 443.26,221.29 442.65,227.88 442.10,234.42 441.63,240.93 441.22,247.40 440.88,253.83 440.61,260.22 440.41,266.57 440.28,272.88 440.22,279.16 440.23,285.39 440.31,291.59 440.46,297.75 440.67,303.87 440.96,309.95 441.31,316.00 441.73,322.01 442.24,327.97 442.84,333.86 443.53,339.71 444.30,345.49 445.16,351.22 446.11,356.91 447.14,362.54 448.24,368.13 449.43,373.67 450.69,379.16 452.03,384.62 453.43,390.04 454.91,395.42 456.46,400.77 458.08,406.08 459.76,411.36 461.50,416.62 463.31,421.85 465.17,427.05" stroke="#800000" stroke-width="1.0" fill="none" />
<path d="M591.41,561.48 595.41,565.88 599.47,570.26 603.60,574.62 607.78,578.96 612.02,583.28 616.32,587.59 620.69,591.88 625.11,596.15 629.60,600.40 634.16,604.62 638.78,608.83" stroke="#800000" stroke-width="0.75" fill="none" />
<path d="M568.83,534.53 572.42,539.10 576.08,543.63 579.81,548.14 583.61,552.61 587.48,557.06 591.41,561.48 M638.78,608.83 643.48,613.00 648.24,617.16 653.06,621.29 657.96,625.39 662.94,629.46 667.98,633.51 673.11,637.52" stroke="#800000" stroke-width="0.8" fill="none" />
<path d="M542.51,497.07 545.58,501.84 548.71,506.58 551.91,511.29 555.17,515.99 558.49,520.66 561.88,525.31 565.32,529.93 568.83,534.53 M673.11,637.52 678.31,641.50 683.59,645.45 688.93,649.38 694.34,653.29 699.81,657.19 705.34,661.08 710.92,664.96 716.55,668.83 722.25,672.69 728.00,676.54 733.82,680.37 739.70,684.18" stroke="#800000" stroke-width="0.85" fill="none" />
<path d="M522.96,462.85 525.54,467.84 528.19,472.79 530.92,477.71 533.71,482.59 536.58,487.45 539.51,492.27 542.51,497.07 M739.70,684.18 745.65,687.98 751.67,691.76 757.75,695.51 763.90,699.26 770.09,703.01 776.36,706.73 782.70,710.42 789.14,714.08 795.68,717.67 802.34,721.21 809.09,724.70" stroke="#800000" stroke-width="0.9" fill="none" />
<path d="M500.79,411.36 502.74,416.62 504.75,421.85 506.82,427.05 508.95,432.23 511.14,437.39 513.38,442.53 515.67,447.65 518.03,452.76 520.46,457.82 522.96,462.85 M809.09,724.70 815.94,728.14 822.88,731.54 829.93,734.89 837.06,738.20 844.30,741.46 851.63,744.68 859.06,747.85 866.59,750.98" stroke="#800000" stroke-width="0.95" fill="none" />
<path d="M516.85,27.80 514.50,35.52 512.23,43.20 510.02,50.84 507.88,58.43 505.82,65.98 503.82,73.48 501.90,80.94 500.05,88.36 498.27,95.73 496.56,103.07 494.92,110.35 493.35,117.60 491.85,124.80 490.42,131.96 489.06,139.08 487.78,146.16 486.56,153.20 485.42,160.19 484.34,167.14 483.34,174.05 482.40,180.92 481.54,187.75 480.75,194.54 480.02,201.29 479.37,208.00 478.79,214.66 478.28,221.29 477.84,227.88 477.46,234.42 477.16,240.93 476.93,247.40 476.77,253.83 476.68,260.22 476.66,266.57 476.71,272.88 476.83,279.16 477.02,285.39 477.28,291.59 477.61,297.75 478.01,303.87 478.49,309.95 479.03,316.00 479.64,322.01 480.33,327.97 481.12,333.86 482.00,339.71 482.97,345.49 484.02,351.22 485.16,356.91 486.38,362.54 487.68,368.13 489.06,373.67 490.52,379.16 492.05,384.62 493.66,390.04 495.34,395.42 497.09,400.77 498.91,406.08 500.79,411.36" stroke="#800000" stroke-width="1.0" fill="none" />
<path d="M630.99,552.61 635.09,557.06 639.26,561.48 643.50,565.88 647.80,570.26 652.16,574.62 656.59,578.96 661.07,583.28 665.62,587.59 670.22,591.88 674.90,596.15" stroke="#800000" stroke-width="0.75" fill="none" />
<path d="M604.25,520.66 607.87,525.31 611.54,529.93 615.28,534.53 619.10,539.10 622.99,543.63 626.95,548.14 630.99,552.61 M674.90,596.15 679.64,600.40 684.44,604.62 689.32,608.83 694.26,613.00 699.27,617.16 704.35,621.29 709.51,625.39 714.74,629.46" stroke="#800000" stroke-width="0.8" fill="none" />
<path d="M580.78,487.45 583.93,492.27 587.15,497.07 590.44,501.84 593.80,506.58 597.22,511.29 600.71,515.99 604.25,520.66 M714.74,629.46 720.04,633.51 725.42,637.52 730.89,641.50 736.42,645.45 742.03,649.38 747.71,653.29 753.44,657.19 759.23,661.08 765.08,664.96 770.98,668.83 776.95,672.69" stroke="#800000" stroke-width="0.85" fill="none" />
<path d="M560.72,452.76 563.36,457.82 566.08,462.85 568.87,467.84 571.74,472.79 574.68,477.71 577.69,482.59 580.78,487.45 M776.95,672.69 782.98,676.54 789.07,680.37 795.22,684.18 801.45,687.98 807.74,691.76 814.11,695.51 820.53,699.26 827.01,703.01 833.56,706.73 840.19,710.42 846.91,714.08 853.74,717.67 860.68,721.21" stroke="#800000" stroke-width="0.9" fill="none" />
<path d="M535.77,395.42 537.72,400.77 539.74,406.08 541.82,411.36 543.98,416.62 546.19,421.85 548.47,427.05 550.80,432.23 553.20,437.39 555.65,442.53 558.16,447.65 560.72,452.76 M860.68,721.21 867.72,724.70 874.87,728.14 882.10,731.54 889.44,734.89 896.87,738.20 904.41,741.46 912.04,744.68 919.77,747.85 927.60,750.98" stroke="#800000" stroke-width="0.95" fill="none" />
<path d="M547.48,27.80 545.28,35.52 543.16,43.20 541.10,50.84 539.12,58.43 537.21,65.98 535.38,73.48 533.61,80.94 531.91,88.36 530.29,95.73 528.74,103.07 527.26,110.35 525.85,117.60 524.51,124.80 523.25,131.96 522.06,139.08 520.93,146.16 519.88,153.20 518.90,160.19 517.99,167.14 517.16,174.05 516.39,180.92 515.69,187.75 515.07,194.54 514.52,201.29 514.04,208.00 513.63,214.66 513.29,221.29 513.02,227.88 512.83,234.42 512.70,240.93 512.65,247.40 512.66,253.83 512.75,260.22 512.91,266.57 513.14,272.88 513.44,279.16 513.81,285.39 514.26,291.59 514.77,297.75 515.36,303.87 516.01,309.95 516.74,316.00 517.54,322.01 518.42,327.97 519.40,333.86 520.47,339.71 521.63,345.49 522.87,351.22 524.20,356.91 525.62,362.54 527.12,368.13 528.69,373.67 530.35,379.16 532.08,384.62 533.89,390.04 535.77,395.42" stroke="#800000" stroke-width="1.0" fill="none" />
<path d="M665.78,539.10 669.90,543.63 674.10,548.14 678.36,552.61 682.70,557.06 687.11,561.48 691.58,565.88 696.12,570.26 700.73,574.62 705.40,578.96 710.12,583.28" stroke="#800000" stroke-width="0.75" fill="none" />
<path d="M638.88,506.58 642.53,511.29 646.24,515.99 650.02,520.66 653.85,525.31 657.75,529.93 661.73,534.53 665.78,539.10 M710.12,583.28 714.91,587.59 719.76,591.88 724.68,596.15 729.67,600.40 734.72,604.62 739.85,608.83 745.04,613.00 750.30,617.16 755.64,621.29" stroke="#800000" stroke-width="0.8" fill="none" />
<path d="M618.45,477.71 621.68,482.59 624.98,487.45 628.35,492.27 631.79,497.07 635.31,501.84 638.88,506.58 M755.64,621.29 761.05,625.39 766.53,629.46 772.10,633.51 777.74,637.52 783.46,641.50 789.26,645.45 795.13,649.38 801.07,653.29 807.07,657.19" stroke="#800000" stroke-width="0.85" fill="none" />
<path d="M595.26,437.39 597.92,442.53 600.64,447.65 603.41,452.76 606.27,457.82 609.20,462.85 612.21,467.84 615.29,472.79 618.45,477.71 M807.07,657.19 813.13,661.08 819.24,664.96 825.42,668.83 831.65,672.69 837.95,676.54 844.31,680.37 850.75,684.18 857.25,687.98 863.82,691.76 870.46,695.51 877.16,699.26 883.93,703.01 890.76,706.73 897.67,710.42 904.68,714.08" stroke="#800000" stroke-width="0.9" fill="none" />
<path d="M572.11,384.62 574.11,390.04 576.19,395.42 578.34,400.77 580.57,406.08 582.86,411.36 585.21,416.62 587.63,421.85 590.11,427.05 592.66,432.23 595.26,437.39 M904.68,714.08 911.80,717.67 919.03,721.21 926.36,724.70 933.79,728.14 941.32,731.54 948.95,734.89 956.68,738.20 964.51,741.46 972.44,744.68 980.48,747.85 988.61,750.98" stroke="#800000" stroke-width="0.95" fill="none" />
<path d="M578.10,27.80 576.06,35.52 574.09,43.20 572.19,50.84 570.36,58.43 568.61,65.98 566.93,73.48 565.32,80.94 563.78,88.36 562.31,95.73 560.92,103.07 559.60,110.35 558.35,117.60 557.18,124.80 556.08,131.96 555.05,139.08 554.09,146.16 553.20,153.20 552.39,160.19 551.64,167.14 550.97,174.05 550.38,180.92 549.85,187.75 549.40,194.54 549.01,201.29 548.71,208.00 548.47,214.66 548.30,221.29 548.21,227.88 548.19,234.42 548.24,240.93 548.36,247.40 548.55,253.83 548.82,260.22 549.16,266.57 549.57,272.88 550.05,279.16 550.61,285.39 551.23,291.59 551.93,297.75 552.70,303.87 553.54,309.95 554.46,316.00 555.44,322.01 556.52,327.97 557.68,333.86 558.94,339.71 560.29,345.49 561.73,351.22 563.25,356.91 564.86,362.54 566.55,368.13 568.33,373.67 570.18,379.16 572.11,384.62" stroke="#800000" stroke-width="1.0" fill="none" />
<path d="M69.76,747.89 68.61,746.84 67.45,745.78 66.30,744.71 65.15,743.62 64.00,742.53 62.85,741.42 61.70,740.30 60.55,739.17 59.41,738.02 58.27,736.87 57.13,735.70 55.99,734.52 54.85,733.32 53.72,732.11 52.59,730.89 51.46,729.65" stroke="#000080" stroke-width="0.75" fill="none" />
<path d="M73.24,750.98 72.08,749.96 70.92,748.93 69.76,747.89 M51.46,729.65 50.33,728.40 49.21,727.14 48.09,725.86 46.97,724.57 45.86,723.26 44.74,721.94 43.64,720.60 42.53,719.25 41.43,717.87 40.34,716.48" stroke="#000080" stroke-width="0.8" fill="none" />
<path d="M40.34,716.48 39.25,715.07 38.17,713.65 37.10,712.20 36.03,710.74 34.96,709.25 33.90,707.76 32.84,706.24 31.78,704.71 30.73,703.17 29.67,701.61 28.62,700.04 27.56,698.45 26.50,696.85 25.44,695.24 24.38,693.62 23.32,691.98" stroke="#000080" stroke-width="0.85" fill="none" />
<path d="M23.32,691.98 22.26,690.32 21.20,688.65 20.14,686.96 19.09,685.25 18.03,683.53 16.98,681.79 15.93,680.03 14.88,678.25 13.83,676.45 12.78,674.64 11.74,672.81 10.69,670.96 9.65,669.09 8.61,667.21 7.57,665.30 6.52,663.38 5.48,661.43 4.44,659.47 3.40,657.49 2.35,655.49 1.31,653.47" stroke="#000080" stroke-width="0.9" fill="none" />
<path d="M1.31,653.47 0.28,651.43 -0.76,649.36 -1.79,647.27 -2.82,645.16 -3.84,643.01 -4.85,640.84 -5.86,638.64 -6.86,636.41 -7.85,634.15 -8.83,631.85 -9.80,629.52 -10.75,627.15 -11.70,624.76 -12.64,622.32 -13.57,619.86 -14.49,617.35" stroke="#000080" stroke-width="0.95" fill="none" />
<path d="M-14.49,617.35 -15.40,614.82 -16.30,612.24 -17.19,609.63 -18.07,606.98 -18.94,604.29 -19.80,601.56 -20.64,598.79 -21.48,595.98 -22.30,593.13 -23.11,590.23 -23.91,587.29 -24.69,584.31 -25.46,581.28 -26.23,578.20 -26.97,575.08 -27.71,571.91 -28.43,568.69 -29.13,565.42 -29.82,562.09 -30.48,558.71 -31.13,555.26 -31.75,551.75 -32.35,548.17 -32.92,544.53 -33.46,540.81 -33.96,537.02 -34.44,533.15 -34.88,529.20 -35.28,525.17 -35.66,521.06 -36.01,516.87 -36.32,512.59 -36.60,508.22 -36.83,503.77 -37.03,499.21 -37.18,494.55 -37.28,489.79 -37.33,484.91 -37.32,479.91 -37.25,474.79 -37.11,469.53 -36.91,464.13 -36.63,458.59 -36.26,452.89 -35.81,447.03 -35.28,441.02 -34.69,434.86 -34.03,428.54 -33.28,422.05 -32.44,415.38 -31.49,408.51 -30.44,401.43 -29.25,394.12 -27.93,386.56 -26.45,378.74 -24.79,370.63 -22.95,362.21 -20.89,353.45 -18.60,344.32 -16.04,334.79 -13.20,324.83 -10.04,314.40 -6.59,303.52 -2.84,292.17 -1.52,288.27" stroke="#000080" stroke-width="1.0" fill="none" />
<path d="M125.34,743.62 124.13,742.53 122.91,741.42 121.70,740.30 120.49,739.17 119.27,738.02 118.06,736.87 116.85,735.70 115.64,734.52 114.43,733.32 113.22,732.11 112.01,730.89 110.81,729.65 109.60,728.40 108.40,727.14 107.20,725.86 106.00,724.57 104.80,723.26 103.60,721.94" stroke="#000080" stroke-width="0.75" fill="none" />
<path d="M133.83,750.98 132.62,749.96 131.41,748.93 130.20,747.89 128.98,746.84 127.77,745.78 126.55,744.71 125.34,743.62 M103.60,721.94 102.40,720.60 101.21,719.25 100.02,717.87 98.84,716.48 97.66,715.07 96.49,713.65 95.32,712.20 94.15,710.74 92.99,709.25 91.83,707.76" stroke="#000080" stroke-width="0.8" fill="none" />
<path d="M91.83,707.76 90.67,706.24 89.51,704.71 88.36,703.17 87.20,701.61 86.04,700.04 84.88,698.45 83.71,696.85 82.54,695.24 81.37,693.62 80.20,691.98 79.03,690.32 77.86,688.65 76.69,686.96 75.52,685.25 74.35,683.53 73.18,681.79 72.01,680.03 70.84,678.25 69.67,676.45 68.51,674.64" stroke="#000080" stroke-width="0.85" fill="none" />
<path d="M68.51,674.64 67.34,672.81 66.17,670.96 65.00,669.09 63.83,667.21 62.66,665.30 61.49,663.38 60.32,661.43 59.15,659.47 57.97,657.49 56.80,655.49 55.62,653.47 54.45,651.43 53.28,649.36 52.11,647.27 50.94,645.16 49.78,643.01 48.62,640.84 47.47,638.64 46.33,636.41" stroke="#000080" stroke-width="0.9" fill="none" />
<path d="M46.33,636.41 45.20,634.15 44.07,631.85 42.96,629.52 41.85,627.15 40.75,624.76 39.66,622.32 38.58,619.86 37.50,617.35 36.44,614.82 35.38,612.24 34.33,609.63 33.29,606.98 32.26,604.29 31.24,601.56 30.24,598.79 M52.06,241.19 55.59,231.68" stroke="#000080" stroke-width="0.95" fill="none" />
<path d="M30.24,598.79 29.24,595.98 28.25,593.13 27.27,590.23 26.31,587.29 25.35,584.31 24.40,581.28 23.47,578.20 22.54,575.08 21.63,571.91 20.73,568.69 19.85,565.42 18.98,562.09 18.13,558.71 17.30,555.26 16.49,551.75 15.70,548.17 14.94,544.53 14.21,540.81 13.50,537.02 12.83,533.15 12.19,529.20 11.58,525.17 11.00,521.06 10.45,516.87 9.92,512.59 9.44,508.22 8.99,503.77 8.57,499.21 8.20,494.55 7.88,489.79 7.61,484.91 7.39,479.91 7.23,474.79 7.13,469.53 7.10,464.13 7.14,458.59 7.26,452.89 7.47,447.03 7.74,441.02 8.08,434.86 8.48,428.54 8.97,422.05 9.55,415.38 10.22,408.51 11.00,401.43 11.91,394.12 12.95,386.56 14.14,378.74 15.50,370.63 17.04,362.21 18.79,353.45 20.77,344.32 23.01,334.79 25.53,324.83 28.36,314.40 31.47,303.52 34.87,292.17 38.60,280.30 42.69,267.88 47.16,254.86 52.06,241.19" stroke="#000080" stroke-width="1.0" fill="none" />
<path d="M182.93,741.42 181.70,740.30 180.47,739.17 179.23,738.02 177.99,736.87 176.76,735.70 175.52,734.52 174.27,733.32 173.03,732.11 171.79,730.89 170.54,729.65 169.30,728.40 168.05,727.14 166.81,725.86 165.56,724.57 164.31,723.26 163.06,721.94 161.82,720.60 160.57,719.25 159.32,717.87" stroke="#000080" stroke-width="0.75" fill="none" />
<path d="M193.93,750.98 192.71,749.96 191.50,748.93 190.28,747.89 189.06,746.84 187.84,745.78 186.62,744.71 185.39,743.62 184.16,742.53 182.93,741.42 M159.32,717.87 158.08,716.48 156.84,715.07 155.61,713.65 154.38,712.20 153.14,710.74 151.91,709.25 150.68,707.76 149.45,706.24 148.22,704.71 146.98,703.17 145.74,701.61 144.50,700.04 143.26,698.45 142.01,696.85 140.76,695.24 139.50,693.62" stroke="#000080" stroke-width="0.8" fill="none" />
<path d="M139.50,693.62 138.24,691.98 136.97,690.32 135.71,688.65 134.44,686.96 133.18,685.25 131.91,683.53 130.64,681.79 129.36,680.03 128.09,678.25 126.82,676.45 125.54,674.64 124.26,672.81 122.98,670.96 121.70,669.09 120.41,667.21 119.13,665.30 117.84,663.38 116.55,661.43 115.25,659.47 113.95,657.49 112.65,655.49 111.35,653.47" stroke="#000080" stroke-width="0.85" fill="none" />
<path d="M111.35,653.47 110.05,651.43 108.74,649.36 107.44,647.27 106.14,645.16 104.85,643.01 103.55,640.84 102.26,638.64 100.98,636.41 99.70,634.15 98.43,631.85 97.17,629.52 95.92,627.15 94.67,624.76 93.43,622.32" stroke="#000080" stroke-width="0.9" fill="none" />
<path d="M93.43,622.32 92.20,619.86 90.97,617.35 89.75,614.82 88.53,612.24 87.33,609.63 86.13,606.98 84.94,604.29 83.76,601.56 82.58,598.79 81.42,595.98 80.26,593.13 79.11,590.23 77.97,587.29 76.85,584.31 75.72,581.28 74.61,578.20 M94.35,226.81 99.83,211.65 105.88,195.64 112.56,178.69 114.94,172.82" stroke="#000080" stroke-width="0.95" fill="none" />
<path d="M74.61,578.20 73.51,575.08 72.41,571.91 71.33,568.69 70.26,565.42 69.21,562.09 68.17,558.71 67.15,555.26 66.14,551.75 65.16,548.17 64.21,544.53 63.27,540.81 62.37,537.02 61.49,533.15 60.65,529.20 59.83,525.17 59.04,521.06 58.27,516.87 57.54,512.59 56.83,508.22 56.16,503.77 55.52,499.21 54.93,494.55 54.38,489.79 53.87,484.91 53.42,479.91 53.02,474.79 52.68,469.53 52.41,464.13 52.20,458.59 52.08,452.89 52.03,447.03 52.04,441.02 52.12,434.86 52.26,428.54 52.47,422.05 52.78,415.38 53.17,408.51 53.67,401.43 54.29,394.12 55.04,386.56 55.93,378.74 56.98,370.63 58.22,362.21 59.65,353.45 61.31,344.32 63.22,334.79 65.41,324.83 67.90,314.40 70.65,303.52 73.70,292.17 77.07,280.30 80.78,267.88 84.87,254.86 89.38,241.19 94.35,226.81" stroke="#000080" stroke-width="1.0" fill="none" />
<path d="M252.07,749.96 250.94,748.93 249.80,747.89 248.66,746.84 247.51,745.78 246.36,744.71 245.20,743.62 244.04,742.53 242.87,741.42 241.70,740.30 240.53,739.17 239.35,738.02 238.16,736.87 236.98,735.70 235.78,734.52 234.59,733.32 233.39,732.11 232.19,730.89 230.98,729.65 229.77,728.40 228.55,727.14 227.34,725.86 226.11,724.57 224.89,723.26 223.66,721.94 222.43,720.60 221.20,719.25" stroke="#000080" stroke-width="0.75" fill="none" />
<path d="M253.20,750.98 252.07,749.96 M221.20,719.25 219.96,717.87 218.73,716.48 217.50,715.07 216.26,713.65 215.03,712.20 213.79,710.74 212.55,709.25 211.31,707.76 210.06,706.24 208.81,704.71 207.56,703.17 206.30,701.61 205.03,700.04 203.76,698.45 202.48,696.85 201.18,695.24 199.89,693.62 198.58,691.98 197.27,690.32 195.96,688.65 194.64,686.96 193.32,685.25" stroke="#000080" stroke-width="0.8" fill="none" />
<path d="M193.32,685.25 191.99,683.53 190.66,681.79 189.32,680.03 187.98,678.25 186.64,676.45 185.29,674.64 183.93,672.81 182.57,670.96 181.21,669.09 179.84,667.21 178.46,665.30 177.08,663.38 175.70,661.43 174.30,659.47 172.90,657.49 171.50,655.49 170.09,653.47 168.68,651.43 167.27,649.36 165.85,647.27 164.44,645.16 163.02,643.01 161.61,640.84 160.19,638.64" stroke="#000080" stroke-width="0.85" fill="none" />
<path d="M160.19,638.64 158.78,636.41 157.37,634.15 155.97,631.85 154.58,629.52 153.18,627.15 151.80,624.76 150.41,622.32 149.03,619.86 147.66,617.35 146.28,614.82 144.92,612.24 143.56,609.63 142.20,606.98" stroke="#000080" stroke-width="0.9" fill="none" />
<path d="M142.20,606.98 140.85,604.29 139.50,601.56 138.16,598.79 136.83,595.98 135.50,593.13 134.18,590.23 132.87,587.29 131.57,584.31 130.26,581.28 128.97,578.20 127.68,575.08 126.40,571.91 125.13,568.69 123.87,565.42 122.62,562.09 121.39,558.71 M144.26,195.64 150.47,178.69 157.37,160.71 165.05,141.58 173.61,121.16 179.87,106.76" stroke="#000080" stroke-width="0.95" fill="none" />
<path d="M121.39,558.71 120.17,555.26 118.96,551.75 117.78,548.17 116.62,544.53 115.47,540.81 114.36,537.02 113.27,533.15 112.21,529.20 111.17,525.17 110.16,521.06 109.17,516.87 108.20,512.59 107.27,508.22 106.36,503.77 105.49,499.21 104.66,494.55 103.87,489.79 103.12,484.91 102.41,479.91 101.76,474.79 101.17,469.53 100.64,464.13 100.17,458.59 99.77,452.89 99.46,447.03 99.20,441.02 98.99,434.86 98.85,428.54 98.78,422.05 98.79,415.38 98.89,408.51 99.09,401.43 99.40,394.12 99.84,386.56 100.41,378.74 101.14,370.63 102.05,362.21 103.15,353.45 104.47,344.32 106.03,334.79 107.86,324.83 109.98,314.40 112.37,303.52 115.03,292.17 118.01,280.30 121.32,267.88 125.00,254.86 129.09,241.19 133.63,226.81 138.67,211.65 144.26,195.64" stroke="#000080" stroke-width="1.0" fill="none" />
<path d="M311.48,750.98 310.53,749.96 309.57,748.93 308.61,747.89 307.64,746.84 306.66,745.78 305.68,744.71 304.69,743.62 303.70,742.53" stroke="#000080" stroke-width="0.75" fill="none" />
<path d="M303.70,742.53 302.70,741.42 301.70,740.30 300.69,739.17 299.67,738.02 298.65,736.87 297.63,735.70 296.59,734.52 295.55,733.32 294.51,732.11 293.46,730.89 292.40,729.65 291.34,728.40 290.27,727.14 289.19,725.86 288.11,724.57 287.02,723.26 285.93,721.94 284.83,720.60 283.72,719.25 282.62,717.87 281.50,716.48 280.39,715.07 279.27,713.65 278.15,712.20" stroke="#000080" stroke-width="0.8" fill="none" />
<path d="M278.15,712.20 277.02,710.74 275.89,709.25 274.75,707.76 273.60,706.24 272.44,704.71 271.28,703.17 270.11,701.61 268.92,700.04 267.73,698.45 266.52,696.85 265.30,695.24 264.06,693.62 262.82,691.98 261.57,690.32 260.31,688.65 259.04,686.96 257.76,685.25 256.47,683.53 255.17,681.79 253.86,680.03 252.54,678.25 251.22,676.45 249.88,674.64 248.53,672.81 247.18,670.96 245.81,669.09 244.44,667.21 243.05,665.30 241.65,663.38 240.24,661.43 238.83,659.47 237.39,657.49 235.95,655.49 234.51,653.47 233.05,651.43 231.58,649.36 230.11,647.27 228.63,645.16 227.15,643.01 225.66,640.84 224.17,638.64 222.68,636.41 221.18,634.15 219.69,631.85" stroke="#000080" stroke-width="0.85" fill="none" />
<path d="M219.69,631.85 218.20,629.52 216.70,627.15 215.21,624.76 213.71,622.32 212.22,619.86 210.72,617.35 209.23,614.82 207.73,612.24 206.23,609.63 204.74,606.98 203.25,604.29 201.75,601.56 200.26,598.79 198.77,595.98 197.29,593.13 195.80,590.23" stroke="#000080" stroke-width="0.9" fill="none" />
<path d="M195.80,590.23 194.32,587.29 192.84,584.31 191.36,581.28 189.89,578.20 188.41,575.08 186.94,571.91 185.48,568.69 184.02,565.42 182.58,562.09 181.14,558.71 179.71,555.26 178.29,551.75 176.89,548.17 175.51,544.53 174.15,540.81 M199.53,160.71 206.64,141.58 214.62,121.16 223.57,99.30 233.65,75.82 245.01,50.50 249.12,41.60" stroke="#000080" stroke-width="0.95" fill="none" />
<path d="M174.15,540.81 172.80,537.02 171.48,533.15 170.19,529.20 168.91,525.17 167.66,521.06 166.42,516.87 165.21,512.59 164.02,508.22 162.86,503.77 161.73,499.21 160.63,494.55 159.57,489.79 158.55,484.91 157.57,479.91 156.64,474.79 155.76,469.53 154.93,464.13 154.17,458.59 153.48,452.89 152.86,447.03 152.29,441.02 151.78,434.86 151.32,428.54 150.93,422.05 150.61,415.38 150.38,408.51 150.24,401.43 150.20,394.12 150.29,386.56 150.51,378.74 150.88,370.63 151.41,362.21 152.14,353.45 153.07,344.32 154.24,334.79 155.67,324.83 157.38,314.40 159.35,303.52 161.58,292.17 164.12,280.30 166.98,267.88 170.21,254.86 173.82,241.19 177.88,226.81 182.42,211.65 187.49,195.64 193.17,178.69 199.53,160.71" stroke="#000080" stroke-width="1.0" fill="none" />
<path d="M368.95,750.98 368.25,749.96 367.54,748.93 366.82,747.89 366.10,746.84 365.38,745.78 364.65,744.71 363.92,743.62 363.19,742.53 362.45,741.42 361.70,740.30 360.95,739.17 360.20,738.02 359.44,736.87 358.67,735.70 357.90,734.52 357.13,733.32 356.35,732.11 355.56,730.89 M314.06,663.38 312.81,661.43 311.54,659.47 310.25,657.49 308.95,655.49 307.63,653.47 306.30,651.43 304.95,649.36 303.58,647.27 302.21,645.16 300.82,643.01 299.41,640.84 298.00,638.64" stroke="#000080" stroke-width="0.85" fill="none" />
<path d="M355.56,730.89 354.77,729.65 353.97,728.40 353.17,727.14 352.36,725.86 351.55,724.57 350.73,723.26 349.90,721.94 349.07,720.60 348.23,719.25 347.39,717.87 346.55,716.48 345.70,715.07 344.85,713.65 343.99,712.20 343.13,710.74 342.25,709.25 341.38,707.76 340.49,706.24 339.59,704.71 338.68,703.17 337.76,701.61 336.83,700.04 335.89,698.45 334.93,696.85 333.95,695.24 332.96,693.62 331.96,691.98 330.94,690.32 329.91,688.65 328.87,686.96 327.82,685.25 326.75,683.53 325.67,681.79 324.58,680.03 323.47,678.25 322.34,676.45 321.21,674.64 320.05,672.81 318.89,670.96 317.70,669.09 316.50,667.21 315.29,665.30 314.06,663.38 M298.00,638.64 296.57,636.41 295.14,634.15 293.69,631.85 292.24,629.52 290.78,627.15 289.31,624.76 287.83,622.32 286.34,619.86 284.84,617.35 283.33,614.82 281.81,612.24 280.28,609.63 278.75,606.98 277.20,604.29 275.65,601.56 274.09,598.79 272.53,595.98 270.95,593.13 269.37,590.23 267.79,587.29 266.20,584.31 264.60,581.28 262.99,578.20 261.37,575.08 259.76,571.91" stroke="#000080" stroke-width="0.9" fill="none" />
<path d="M259.76,571.91 258.14,568.69 256.51,565.42 254.89,562.09 253.27,558.71 251.65,555.26 250.04,551.75 248.43,548.17 246.83,544.53 245.24,540.81 243.67,537.02 242.11,533.15 240.57,529.20 239.05,525.17 237.53,521.06 M264.71,121.16 272.92,99.30 282.22,75.82 292.79,50.50 304.82,23.06" stroke="#000080" stroke-width="0.95" fill="none" />
<path d="M237.53,521.06 236.03,516.87 234.55,512.59 233.08,508.22 231.63,503.77 230.20,499.21 228.80,494.55 227.43,489.79 226.10,484.91 224.80,479.91 223.54,474.79 222.33,469.53 221.16,464.13 220.06,458.59 219.01,452.89 218.03,447.03 217.10,441.02 216.21,434.86 215.37,428.54 214.59,422.05 213.88,415.38 213.24,408.51 212.69,401.43 212.24,394.12 211.90,386.56 211.69,378.74 211.61,370.63 211.70,362.21 211.96,353.45 212.42,344.32 213.11,334.79 214.06,324.83 215.27,314.40 216.72,303.52 218.44,292.17 220.44,280.30 222.76,267.88 225.42,254.86 228.46,241.19 231.92,226.81 235.85,211.65 240.30,195.64 245.33,178.69 251.02,160.71 257.44,141.58 264.71,121.16" stroke="#000080" stroke-width="1.0" fill="none" />
<path d="M426.17,750.98 425.73,749.96 425.29,748.93 424.84,747.89 424.40,746.84 423.95,745.78 423.50,744.71 423.05,743.62 422.60,742.53 422.15,741.42 421.70,740.30 421.25,739.17 420.79,738.02 420.33,736.87 419.88,735.70 419.42,734.52 418.96,733.32 418.49,732.11 418.03,730.89 417.56,729.65 417.09,728.40 416.62,727.14 416.15,725.86 415.68,724.57 415.20,723.26 414.72,721.94 M403.29,688.65 402.68,686.96 402.06,685.25 401.42,683.53 400.78,681.79 400.12,680.03 399.45,678.25 398.77,676.45 398.07,674.64 397.36,672.81 396.64,670.96 395.90,669.09 395.15,667.21 394.38,665.30 393.60,663.38 392.79,661.43 391.97,659.47 391.13,657.49 390.27,655.49 389.40,653.47 388.50,651.43 387.59,649.36 386.66,647.27 385.72,645.16 384.75,643.01 383.77,640.84 382.78,638.64 381.77,636.41 380.74,634.15 379.70,631.85 378.64,629.52 377.57,627.15 376.48,624.76 375.37,622.32 374.24,619.86 373.09,617.35 371.92,614.82 370.74,612.24 369.53,609.63 368.30,606.98 367.05,604.29 365.78,601.56 364.49,598.79 363.18,595.98 361.85,593.13 360.49,590.23 359.11,587.29 357.71,584.31 356.28,581.28 354.83,578.20 353.36,575.08 351.86,571.91 350.35,568.69 348.81,565.42 347.25,562.09 345.67,558.71 344.08,555.26 342.47,551.75 340.85,548.17 339.22,544.53 337.58,540.81 335.93,537.02 334.28,533.15 332.63,529.20 330.97,525.17 329.30,521.06 327.63,516.87 325.95,512.59 324.27,508.22 322.59,503.77 320.92,499.21 M347.63,75.82 357.12,50.50 368.02,23.06" stroke="#000080" stroke-width="0.95" fill="none" />
<path d="M414.72,721.94 414.24,720.60 413.76,719.25 413.28,717.87 412.79,716.48 412.31,715.07 411.83,713.65 411.34,712.20 410.86,710.74 410.37,709.25 409.87,707.76 409.37,706.24 408.87,704.71 408.35,703.17 407.83,701.61 407.30,700.04 406.76,698.45 406.21,696.85 405.65,695.24 405.07,693.62 404.49,691.98 403.90,690.32 403.29,688.65 M320.92,499.21 319.25,494.55 317.59,489.79 315.96,484.91 314.33,479.91 312.74,474.79 311.17,469.53 309.64,464.13 308.14,458.59 306.69,452.89 305.29,447.03 303.93,441.02 302.59,434.86 301.28,428.54 300.03,422.05 298.82,415.38 297.68,408.51 296.61,401.43 295.62,394.12 294.74,386.56 293.96,378.74 293.31,370.63 292.80,362.21 292.46,353.45 292.30,344.32 292.36,334.79 292.65,324.83 293.20,314.40 293.97,303.52 294.98,292.17 296.27,280.30 297.85,267.88 299.75,254.86 302.02,241.19 304.68,226.81 307.79,211.65 311.40,195.64 315.56,178.69 320.35,160.71 325.85,141.58 332.15,121.16 339.37,99.30 347.63,75.82" stroke="#000080" stroke-width="1.0" fill="none" />
<path d="M483.71,750.98 483.50,749.96 483.29,748.93 483.08,747.89 482.88,746.84 482.68,745.78 482.48,744.71 482.28,743.62 482.08,742.53 481.89,741.42 481.70,740.30 481.51,739.17 481.33,738.02 481.14,736.87 480.96,735.70 480.78,734.52 480.61,733.32 480.43,732.11 480.26,730.89 480.09,729.65 479.93,728.40 479.76,727.14 479.60,725.86 479.44,724.57 479.29,723.26 479.14,721.94 478.98,720.60 478.84,719.25 478.69,717.87 478.56,716.48 478.43,715.07 478.30,713.65 478.18,712.20 478.06,710.74 477.94,709.25 477.83,707.76 477.71,706.24 477.60,704.71 477.49,703.17 477.37,701.61 477.25,700.04 477.13,698.45 477.01,696.85 476.88,695.24 476.74,693.62 476.60,691.98 476.46,690.32 476.32,688.65 476.18,686.96 476.03,685.25 475.88,683.53 475.73,681.79 475.57,680.03 475.41,678.25 475.25,676.45 475.08,674.64 474.91,672.81 474.73,670.96 474.55,669.09 474.36,667.21 474.16,665.30 473.96,663.38 473.75,661.43 473.53,659.47 473.30,657.49 473.06,655.49 472.82,653.47 472.56,651.43 472.31,649.36 472.04,647.27 471.77,645.16 471.49,643.01 471.20,640.84 470.91,638.64 470.61,636.41 470.31,634.15 470.00,631.85 469.69,629.52 469.37,627.15 469.05,624.76 468.72,622.32 468.37,619.86 468.02,617.35 467.66,614.82 467.28,612.24 466.90,609.63 466.50,606.98 466.09,604.29 465.66,601.56 465.22,598.79 464.76,595.98 464.29,593.13 463.79,590.23 463.28,587.29 462.75,584.31 462.19,581.28 461.61,578.20 461.01,575.08 460.38,571.91 459.72,568.69 459.04,565.42 458.33,562.09 457.59,558.71 456.83,555.26 456.04,551.75 455.23,548.17 454.38,544.53 453.51,540.81 452.62,537.02 451.69,533.15 450.74,529.20 449.76,525.17 448.74,521.06 447.68,516.87 446.58,512.59 445.45,508.22 444.28,503.77 443.07,499.21 441.83,494.55 440.55,489.79 439.25,484.91 437.91,479.91 436.55,474.79 435.17,469.53 433.77,464.13 432.35,458.59 430.92,452.89 429.49,447.03 428.04,441.02 426.56,434.86 425.06,428.54 423.55,422.05 422.03,415.38 420.53,408.51 419.04,401.43 417.59,394.12 416.18,386.56 414.83,378.74 413.56,370.63 412.39,362.21 411.34,353.45 410.42,344.32 409.68,334.79 409.13,324.83 408.79,314.40 408.64,303.52 408.69,292.17 408.97,280.30 409.51,267.88 410.33,254.86 411.48,241.19 412.98,226.81 414.89,211.65 417.26,195.64 420.14,178.69 423.60,160.71 427.72,141.58 432.60,121.16 438.33,99.30 445.06,75.82 452.94,50.50 462.17,23.06" stroke="#000080" stroke-width="1.0" fill="none" />
<path d="M541.86,750.98 541.82,749.96 541.79,748.93 541.76,747.89 541.74,746.84 541.72,745.78 541.71,744.71 541.70,743.62 541.69,742.53 541.69,741.42 541.70,740.30 541.71,739.17 541.73,738.02 541.75,736.87 541.77,735.70 541.80,734.52 541.84,733.32 541.88,732.11 541.93,730.89 541.98,729.65 542.04,728.40 542.11,727.14 542.18,725.86 542.25,724.57 542.34,723.26 542.42,721.94 542.52,720.60 542.62,719.25 542.73,717.87 542.85,716.48 542.98,715.07 543.12,713.65 543.27,712.20 543.42,710.74 543.59,709.25 543.75,707.76 543.93,706.24 544.11,704.71 544.29,703.17 544.48,701.61 544.66,700.04 544.86,698.45 545.05,696.85 545.24,695.24 545.43,693.62 545.63,691.98 545.83,690.32 546.03,688.65 546.24,686.96 546.45,685.25 546.67,683.53 546.89,681.79 547.11,680.03 547.34,678.25 547.57,676.45 547.81,674.64 548.04,672.81 548.28,670.96 548.53,669.09 548.77,667.21 549.02,665.30 549.27,663.38 549.52,661.43 549.77,659.47 550.02,657.49 550.28,655.49 550.54,653.47 550.80,651.43 551.06,649.36 551.33,647.27 551.60,645.16 551.88,643.01 552.17,640.84 552.46,638.64 552.77,636.41 553.08,634.15 553.40,631.85 553.73,629.52 554.07,627.15 554.42,624.76 554.77,622.32 555.14,619.86 555.51,617.35 555.89,614.82 556.27,612.24 556.67,609.63 557.07,606.98 557.48,604.29 557.89,601.56 558.32,598.79 558.75,595.98 559.18,593.13 559.62,590.23 560.07,587.29 560.52,584.31 560.98,581.28 561.44,578.20 561.90,575.08 562.37,571.91 562.84,568.69 563.32,565.42 563.80,562.09 564.29,558.71 564.78,555.26 565.28,551.75 565.79,548.17 566.31,544.53 566.84,540.81 567.38,537.02 567.93,533.15 568.49,529.20 569.06,525.17 569.62,521.06 570.19,516.87 570.76,512.59 571.33,508.22 571.91,503.77 572.48,499.21 573.05,494.55 573.63,489.79 574.20,484.91 574.78,479.91 575.36,474.79 575.94,469.53 576.53,464.13 577.12,458.59 577.71,452.89 578.30,447.03 578.86,441.02 579.39,434.86 579.89,428.54 580.36,422.05 580.79,415.38 581.19,408.51 581.55,401.43 581.88,394.12 582.18,386.56 582.46,378.74 582.71,370.63 582.94,362.21 583.16,353.45 583.37,344.32 583.60,334.79 583.85,324.83 584.14,314.40 584.41,303.52 584.69,292.17 584.98,280.30 585.32,267.88 585.72,254.86 586.22,241.19 586.87,226.81 587.70,211.65 588.78,195.64 590.18,178.69 591.97,160.71 594.23,141.58 597.08,121.16 600.62,99.30 604.99,75.82 610.36,50.50 616.92,23.06" stroke="#000080" stroke-width="1.0" fill="none" />
<path d="M656.67,544.53 658.02,540.81 659.40,537.02 660.83,533.15 662.30,529.20 663.81,525.17 665.35,521.06 666.93,516.87 668.55,512.59 670.21,508.22 671.92,503.77 673.67,499.21 675.47,494.55 677.33,489.79 679.24,484.91 681.21,479.91 683.24,474.79 685.34,469.53 687.51,464.13 689.76,458.59 692.09,452.89 694.50,447.03 696.98,441.02 699.52,434.86 702.13,428.54 704.81,422.05 707.58,415.38 710.44,408.51 713.39,401.43 716.45,394.12 719.63,386.56 722.94,378.74 726.40,370.63 730.00,362.21 733.78,353.45 737.75,344.32 741.93,334.79 746.34,324.83 750.98,314.40 755.83,303.52 760.88,292.17 766.16,280.30 771.67,267.88 777.42,254.86 783.43,241.19 789.71,226.81 796.28,211.65 803.15,195.64 810.33,178.69 817.84,160.71 825.68,141.58 833.87,121.16 842.40,99.30 851.30,75.82 860.57,50.50" stroke="#000080" stroke-width="0.95" fill="none" />
<path d="M600.64,750.98 600.72,749.96 600.80,748.93 600.90,747.89 600.99,746.84 601.10,745.78 601.20,744.71 601.32,743.62 601.44,742.53 601.57,741.42 601.70,740.30 601.84,739.17 601.99,738.02 602.14,736.87 602.30,735.70 602.47,734.52 602.64,733.32 602.82,732.11 603.01,730.89 603.21,729.65 603.41,728.40 603.62,727.14 603.84,725.86 604.07,724.57 604.30,723.26 604.55,721.94 604.80,720.60 605.06,719.25 605.33,717.87 605.61,716.48 605.91,715.07 606.21,713.65 606.53,712.20 606.86,710.74 607.19,709.25 607.54,707.76 607.89,706.24 608.25,704.71 608.62,703.17 608.99,701.61 609.37,700.04 609.75,698.45 610.14,696.85 610.53,695.24 610.93,693.62 611.33,691.98 611.73,690.32 612.15,688.65 612.57,686.96 613.00,685.25 613.44,683.53 613.89,681.79 614.34,680.03 614.80,678.25 615.27,676.45 615.74,674.64 616.22,672.81 616.71,670.96 617.21,669.09 617.71,667.21 618.22,665.30 618.74,663.38 619.26,661.43 619.79,659.47 620.33,657.49 620.87,655.49 621.42,653.47 621.98,651.43 622.55,649.36 623.13,647.27 623.72,645.16 624.33,643.01 624.94,640.84 625.58,638.64 626.22,636.41 626.88,634.15 627.56,631.85 628.26,629.52 628.98,627.15 629.71,624.76 630.46,622.32 631.22,619.86 632.01,617.35 632.80,614.82 633.62,612.24 634.45,609.63 635.31,606.98 636.18,604.29 637.07,601.56 637.98,598.79 638.90,595.98 639.85,593.13 640.82,590.23 641.81,587.29 642.81,584.31 643.84,581.28 644.88,578.20 645.95,575.08 647.03,571.91 648.14,568.69 649.28,565.42 650.44,562.09 651.62,558.71 652.84,555.26 654.08,551.75 655.36,548.17 656.67,544.53 M860.57,50.50 870.22,23.06" stroke="#000080" stroke-width="1.0" fill="none" />
<path d="M918.52,211.65 928.82,195.64 939.80,178.69 951.54,160.71 964.12,141.58 977.64,121.16 992.21,99.30 1007.98,75.82 1025.10,50.50 1043.77,23.06" stroke="#000080" stroke-width="0.85" fill="none" />
<path d="M765.26,474.79 767.94,469.53 770.71,464.13 773.58,458.59 776.56,452.89 779.65,447.03 782.83,441.02 786.11,434.86 789.49,428.54 792.97,422.05 796.58,415.38 800.32,408.51 804.19,401.43 808.23,394.12 812.43,386.56 816.81,378.74 821.40,370.63 826.21,362.21 831.26,353.45 836.58,344.32 842.20,334.79 848.14,324.83 854.42,314.40 861.02,303.52 867.96,292.17 875.27,280.30 882.98,267.88 891.11,254.86 899.72,241.19 908.84,226.81 918.52,211.65" stroke="#000080" stroke-width="0.9" fill="none" />
<path d="M691.79,640.84 692.59,638.64 693.41,636.41 694.24,634.15 695.10,631.85 695.98,629.52 696.88,627.15 697.80,624.76 698.74,622.32 699.70,619.86 700.68,617.35 701.68,614.82 702.70,612.24 703.75,609.63 704.81,606.98 705.90,604.29 707.01,601.56 708.15,598.79 709.31,595.98 710.50,593.13 711.71,590.23 712.94,587.29 714.20,584.31 715.49,581.28 716.80,578.20 718.13,575.08 719.50,571.91 720.89,568.69 722.32,565.42 723.78,562.09 725.27,558.71 726.80,555.26 728.37,551.75 729.97,548.17 731.62,544.53 733.32,540.81 735.07,537.02 736.86,533.15 738.71,529.20 740.61,525.17 742.56,521.06 744.55,516.87 746.60,512.59 748.70,508.22 750.86,503.77 753.09,499.21 755.37,494.55 757.73,489.79 760.16,484.91 762.67,479.91 765.26,474.79" stroke="#000080" stroke-width="0.95" fill="none" />
<path d="M659.93,750.98 660.08,749.96 660.23,748.93 660.39,747.89 660.56,746.84 660.73,745.78 660.91,744.71 661.10,743.62 661.29,742.53 661.49,741.42 661.70,740.30 661.91,739.17 662.14,738.02 662.37,736.87 662.60,735.70 662.85,734.52 663.10,733.32 663.36,732.11 663.63,730.89 663.91,729.65 664.19,728.40 664.49,727.14 664.79,725.86 665.10,724.57 665.42,723.26 665.75,721.94 666.09,720.60 666.44,719.25 666.80,717.87 667.17,716.48 667.56,715.07 667.96,713.65 668.37,712.20 668.79,710.74 669.22,709.25 669.66,707.76 670.12,706.24 670.58,704.71 671.04,703.17 671.52,701.61 672.00,700.04 672.49,698.45 672.99,696.85 673.48,695.24 673.99,693.62 674.50,691.98 675.02,690.32 675.55,688.65 676.09,686.96 676.63,685.25 677.19,683.53 677.76,681.79 678.33,680.03 678.91,678.25 679.51,676.45 680.11,674.64 680.72,672.81 681.34,670.96 681.97,669.09 682.61,667.21 683.25,665.30 683.91,663.38 684.57,661.43 685.24,659.47 685.92,657.49 686.62,655.49 687.32,653.47 688.03,651.43 688.75,649.36 689.49,647.27 690.24,645.16 691.01,643.01 691.79,640.84" stroke="#000080" stroke-width="1.0" fill="none" />
<line x1="-667.5" y1="749.5" x2="31.5" y2="50.5" stroke="#fff"/>
<line x1="-607.5" y1="749.5" x2="91.5" y2="50.5" stroke="#fff"/>
<line x1="-547.5" y1="749.5" x2="151.5" y2="50.5" stroke="#fff"/>
<line x1="-487.5" y1="749.5" x2="211.5" y2="50.5" stroke="#fff"/>
<line x1="-427.5" y1="749.5" x2="271.5" y2="50.5" stroke="#fff"/>
<line x1="-367.5" y1="749.5" x2="331.5" y2="50.5" stroke="#fff"/>
<line x1="-307.5" y1="749.5" x2="391.5" y2="50.5" stroke="#fff"/>
<line x1="-247.5" y1="749.5" x2="451.5" y2="50.5" stroke="#fff"/>
<line x1="-187.5" y1="749.5" x2="511.5" y2="50.5" stroke="#fff"/>
<line x1="-127.5" y1="749.5" x2="571.5" y2="50.5" stroke="#fff"/>
<line x1="-67.5" y1="749.5" x2="631.5" y2="50.5" stroke="#fff"/>
<line x1="-7.5" y1="749.5" x2="691.5" y2="50.5" stroke="#fff"/>
<line x1="52.5" y1="749.5" x2="751.5" y2="50.5" stroke="#fff"/>
<line x1="112.5" y1="749.5" x2="811.5" y2="50.5" stroke="#fff"/>
<line x1="172.5" y1="749.5" x2="871.5" y2="50.5" stroke="#fff"/>
<line x1="232.5" y1="749.5" x2="931.5" y2="50.5" stroke="#fff"/>
<line x1="292.5" y1="749.5" x2="991.5" y2="50.5" stroke="#fff"/>
<line x1="352.5" y1="749.5" x2="1051.5" y2="50.5" stroke="#fff"/>
<line x1="412.5" y1="749.5" x2="1111.5" y2="50.5" stroke="#fff"/>
<line x1="472.5" y1="749.5" x2="1171.5" y2="50.5" stroke="#fff"/>
<line x1="532.5" y1="749.5" x2="1231.5" y2="50.5" stroke="#fff"/>
<line x1="592.5" y1="749.5" x2="1291.5" y2="50.5" stroke="#fff"/>
<line x1="652.5" y1="749.5" x2="1351.5" y2="50.5" stroke="#fff"/>
</g>
<line x1="56" y1="50.5" x2="667" y2="50.5" stroke="#fff"/>
<line x1="56" y1="321.5" x2="667" y2="321.5" stroke="#fff"/>
<line x1="56" y1="449.5" x2="667" y2="449.5" stroke="#fff"/>
<line x1="56" y1="529.5" x2="667" y2="529.5" stroke="#fff"/>
<line x1="56" y1="586.5" x2="667" y2="586.5" stroke="#fff"/>
<line x1="56" y1="630.5" x2="667" y2="630.5" stroke="#fff"/>
<line x1="56" y1="665.5" x2="667" y2="665.5" stroke="#fff"/>
<line x1="56" y1="694.5" x2="667" y2="694.5" stroke="#fff"/>
<line x1="56" y1="719.5" x2="667" y2="719.5" stroke="#fff"/>
<line x1="56" y1="740.5" x2="661.5" y2="740.5" stroke="#fff"/>
<path d="M61.5,50.5 L61.5,754.5 M61.5,749.5 L661.5,749.5 M661.5,50.5 L661.5,754.5" stroke="#fff" fill="none"/>
<path d="M61,648.5 h3" stroke="#fff"/>
<path d="M121.5,749.5 v5 M181.5,749.5 v5 M241.5,749.5 v5 M301.5,749.5 v5 M361.5,749.5 v5 M421.5,749.5 v5 M481.5,749.5 v5 M541.5,749.5 v5 M601.5,749.5 v5" stroke="#fff"/>
<g clip-path="url(#cp)" fill="none">
<line x1="62" y1="709.5" x2="625" y2="709.5" stroke="#ff00ff"/>
<path d="M581,218.5 h5 M583.5,216 v5 M443,321.5 h5 M445.5,319 v5 M396,394.5 h5 M398.5,392 v5 M408,493.5 h5 M410.5,491 v5 M422,560.5 h5 M424.5,558 v5 M431,610.5 h5 M433.5,608 v5 M448,648.5 h5 M450.5,646 v5 M455,667.5 h5 M457.5,665 v5 M464,681.5 h5 M466.5,679 v5 M482,712.5 h5 M484.5,710 v5 M492,720.5 h5 M494.5,718 v5 M502,727.5 h5 M504.5,725 v5 M511,733.5 h5 M513.5,731 v5" stroke="#fff" fill="none"/>
<path d="M419,217.5 h5 M421.5,215 v5 M396,394.5 h5 M398.5,392 v5 M403,493.5 h5 M405.5,491 v5 M415,560.5 h5 M417.5,558 v5 M417,610.5 h5 M419.5,608 v5 M424,648.5 h5 M426.5,646 v5 M438,666.5 h5 M440.5,664 v5 M440,681.5 h5 M442.5,679 v5 M453,705.5 h5 M455.5,703 v5 M459,712.5 h5 M461.5,710 v5 M467,726.5 h5 M469.5,724 v5 M469,730.5 h5 M471.5,728 v5" stroke="#fff" fill="none"/>
<path d="M138,728.5 h5 M140.5,726 v5 M190,218.5 h5 M192.5,216 v5 M116,321.5 h5 M118.5,319 v5 M65,394.5 h5 M67.5,392 v5 M88,493.5 h5 M90.5,491 v5 M92,560.5 h5 M94.5,558 v5 M90,666.5 h5 M92.5,664 v5 M95,681.5 h5 M97.5,679 v5 M105,694.5 h5 M107.5,692 v5 M129,704.5 h5 M131.5,702 v5 M139,712.5 h5 M141.5,710 v5 M145,726.5 h5 M147.5,724 v5 M138,730.5 h5 M140.5,728 v5" stroke="#fff" fill="none"/>
<path d="M84,728.5 h5 M86.5,726 v5 M239,218.5 h5 M241.5,216 v5 M173,321.5 h5 M175.5,319 v5 M113,394.5 h5 M115.5,392 v5 M143,493.5 h5 M145.5,491 v5 M143,560.5 h5 M145.5,558 v5 M143,610.5 h5 M145.5,608 v5 M143,648.5 h5 M145.5,646 v5 M130,664.5 h5 M132.5,662 v5 M108,681.5 h5 M110.5,679 v5 M89,694.5 h5 M91.5,692 v5 M84,704.5 h5 M86.5,702 v5 M83,712.5 h5 M85.5,710 v5 M89,726.5 h5 M91.5,724 v5 M84,730.5 h5 M86.5,728 v5" stroke="#fff" fill="none"/>
<path d="M65,681.5 h5 M67.5,679 v5 M86,694.5 h5 M88.5,692 v5 M129,704.5 h5 M131.5,702 v5 M301,718.5 h5 M303.5,716 v5 M385,726.5 h5 M387.5,724 v5 M439,729.5 h5 M441.5,727 v5 M480,732.5 h5 M482.5,730 v5" stroke="#fff" fill="none"/>
<path d="M97,703.5 h5 M99.5,701 v5 M102,712.5 h5 M104.5,710 v5 M76,718.5 h5 M78.5,716 v5 M63,726.5 h5 M65.5,724 v5 M61,731.5 h5 M63.5,729 v5" stroke="#fff" fill="none"/>
<path d="M242,666.5 h5 M244.5,664 v5 M227,695.5 h5 M229.5,693 v5 M220,704.5 h5 M222.5,702 v5 M208,728.5 h5 M210.5,726 v5 M208,731.5 h5 M210.5,729 v5 M204,711.5 h5 M206.5,709 v5" stroke="#fff" fill="none"/>
<path d="M89.20,694.00 99.40,703.50" stroke="#ff8000" stroke-width="0.75" fill="none" />
<path d="M131.60,667.60 89.20,694.00 M99.40,703.50 104.50,712.30 M78.00,718.90 65.80,726.30" stroke="#ff8000" stroke-width="0.9" fill="none" />
<path d="M65.80,726.30 63.40,731.40" stroke="#ff8000" stroke-width="0.95" fill="none" />
<path d="M62.00,665.60 79.30,666.30 114.70,667.10 131.60,667.60 M104.50,712.30 78.00,718.90" stroke="#ff8000" stroke-width="1.0" fill="none" />
<path d="M67.20,681.50 88.20,694.40" stroke="#ffff00" stroke-width="0.9" fill="none" />
<path d="M62.00,668.70 67.20,681.50" stroke="#ffff00" stroke-width="0.95" fill="none" />
<path d="M88.20,694.40 107.00,696.80 131.80,704.10 151.50,709.20 173.20,708.80 208.80,711.30 303.00,718.70 387.20,726.50 441.00,729.20 482.60,732.40" stroke="#ffff00" stroke-width="1.0" fill="none" />
<path d="M214.50,709.80 208.00,717.00" stroke="#c0c000" stroke-width="0.75" fill="none" />
<path d="M229.00,695.00 222.00,704.00 214.50,709.80" stroke="#c0c000" stroke-width="0.8" fill="none" />
<path d="M236.00,683.50 229.00,695.00" stroke="#c0c000" stroke-width="0.9" fill="none" />
<path d="M249.50,655.50 244.50,666.50 236.00,683.50 M208.00,723.00 210.00,728.00" stroke="#c0c000" stroke-width="0.95" fill="none" />
<path d="M208.00,717.00 208.00,723.00 M210.00,728.00 210.50,731.00" stroke="#c0c000" stroke-width="1.0" fill="none" />
<path d="M131.80,704.10 141.20,712.40 M141.20,718.50 147.30,726.20" stroke="#ff0080" stroke-width="0.8" fill="none" />
<path d="M192.20,218.40 118.40,321.20 67.60,394.00 M90.60,620.00 96.20,627.60 M97.90,681.50 107.00,694.20 M147.30,726.20 140.70,730.70" stroke="#ff0080" stroke-width="0.85" fill="none" />
<path d="M72.60,450.70 90.30,493.10 M94.50,661.30 92.30,666.40 97.90,681.50 M107.00,694.20 131.80,704.10" stroke="#ff0080" stroke-width="0.95" fill="none" />
<path d="M150.50,50.50 192.20,218.40 M67.60,394.00 72.60,450.70 M90.30,493.10 95.40,528.10 94.50,560.30 92.00,580.50 90.30,600.70 90.60,620.00 M96.20,627.60 97.40,631.00 95.70,647.80 94.50,661.30 M141.20,712.40 141.20,718.50" stroke="#ff0080" stroke-width="1.0" fill="none" />
<path d="M175.00,321.20 115.90,394.00 M145.00,648.70 132.40,664.70 M85.40,718.50 91.50,726.20 86.00,730.70" stroke="#00ff00" stroke-width="0.8" fill="none" />
<path d="M241.50,218.40 175.00,321.20 M132.40,664.70 110.50,681.50 91.50,694.20 87.10,700.30" stroke="#00ff00" stroke-width="0.85" fill="none" />
<path d="M127.30,450.70 143.30,486.00 M148.40,641.00 145.00,648.70" stroke="#00ff00" stroke-width="0.95" fill="none" />
<path d="M193.30,50.50 241.50,218.40 M115.90,394.00 127.30,450.70 M143.30,486.00 145.50,493.10 145.50,560.30 145.50,610.00 151.80,631.00 148.40,641.00 M87.10,700.30 86.00,704.10 85.40,712.40 85.40,718.50" stroke="#00ff00" stroke-width="1.0" fill="none" />
<path d="M662.00,125.50 583.30,218.30 M433.70,610.60 448.90,628.80 M484.20,712.00 494.60,720.30" stroke="#ff0000" stroke-width="0.8" fill="none" />
<path d="M583.30,218.30 445.50,321.50 398.90,394.00 M453.90,662.50 457.30,667.50 466.70,681.70 474.70,692.90 M494.60,720.30 504.10,727.00 513.20,733.20" stroke="#ff0000" stroke-width="0.85" fill="none" />
<path d="M477.90,700.00 484.20,712.00" stroke="#ff0000" stroke-width="0.9" fill="none" />
<path d="M474.70,692.90 477.90,700.00" stroke="#ff0000" stroke-width="0.95" fill="none" />
<path d="M398.90,394.00 399.90,403.60 400.60,425.70 402.10,447.80 404.30,470.00 407.50,485.00 410.50,493.50 413.60,508.60 418.00,521.90 420.20,533.60 422.40,551.30 424.00,560.60 428.30,580.80 430.30,590.00 432.90,606.90 433.70,610.60 M448.90,628.80 449.40,640.60 450.20,648.70 453.90,662.50" stroke="#ff0000" stroke-width="1.0" fill="none" />
<path d="M578.00,50.50 444.60,192.30 421.00,216.80" stroke="#00ffff" stroke-width="0.75" fill="none" />
<path d="M455.30,705.00 461.40,712.50 466.00,718.20 M469.00,726.50 471.80,730.00" stroke="#00ffff" stroke-width="0.8" fill="none" />
<path d="M442.30,681.80 448.90,694.50 455.30,705.00" stroke="#00ffff" stroke-width="0.9" fill="none" />
<path d="M419.40,610.60 427.00,628.80 M466.00,718.20 469.00,726.50" stroke="#00ffff" stroke-width="0.95" fill="none" />
<path d="M421.00,216.80 418.60,235.30 415.30,248.60 411.70,267.70 408.00,282.50 404.30,301.60 402.10,320.80 401.80,330.00 400.60,349.00 399.10,368.30 398.40,386.00 398.40,394.00 398.40,418.40 399.90,447.80 402.10,470.00 404.70,489.50 405.00,493.50 409.10,511.50 412.80,529.20 415.80,548.40 417.50,560.60 418.00,577.80 418.50,590.00 419.40,610.60 M427.00,628.80 426.60,648.70 429.80,666.00 440.50,666.70 442.30,681.80" stroke="#00ffff" stroke-width="1.0" fill="none" />
<path d="M447.70,95.00 445.70,100.00" stroke="#ffc0ff" stroke-width="0.95" fill="none" />
<path d="M460.60,50.50 453.90,71.00 447.70,95.00 M445.70,100.00 439.50,125.00 436.00,135.00 428.00,175.00 421.70,215.00 420.00,235.30 418.50,258.90 417.80,288.40 418.50,314.90 419.50,335.00 420.80,344.70 423.00,359.50 425.20,377.10 427.40,396.30 430.30,412.50 433.30,425.70 436.20,441.90 439.70,458.10 444.70,474.70 449.20,489.50 453.60,504.20 456.50,518.90 458.70,533.60 461.70,548.40 465.36,563.10 468.10,577.80 470.46,590.00 472.63,610.00 474.92,628.80 477.19,649.00 479.46,669.20 480.91,691.10 482.14,706.30 482.01,709.30" stroke="#ffc0ff" stroke-width="1.0" fill="none" />
<path d="M489.20,712.00 499.60,720.30" stroke="#ffc0ff" stroke-width="0.8" fill="none" />
<path d="M485.50,709.30 489.20,712.00 M499.60,720.30 509.10,727.00 518.40,733.00" stroke="#ffc0ff" stroke-width="0.85" fill="none" />
<path d="M444.50,95.00 442.50,100.00" stroke="#ff00ff" stroke-width="0.95" fill="none" />
<path d="M457.40,50.50 450.70,71.00 444.50,95.00 M442.50,100.00 436.30,125.00 432.80,135.00 424.80,175.00 418.50,215.00 416.80,235.30 415.30,258.90 414.60,288.40 415.30,314.90 416.30,335.00 417.60,344.70 419.80,359.50 422.00,377.10 424.20,396.30 427.10,412.50 430.10,425.70 433.00,441.90 436.50,458.10 441.50,474.70 446.00,489.50 450.40,504.20 453.30,518.90 455.50,533.60 458.50,548.40 462.20,563.10 465.10,577.80 467.60,590.00 470.00,610.00 472.50,628.80 475.00,649.00 477.50,669.20 479.20,691.10 480.60,706.30 480.50,709.30" stroke="#ff00ff" stroke-width="1.0" fill="none" />
<path d="M484.20,712.00 494.60,720.30" stroke="#ff00ff" stroke-width="0.8" fill="none" />
<path d="M480.50,709.30 484.20,712.00 M494.60,720.30 504.10,727.00 513.40,733.00" stroke="#ff00ff" stroke-width="0.85" fill="none" />
<path d="M480.50,709.30 470.50,727.20 467.80,732.40" stroke="#ff00ff" stroke-width="0.9" fill="none" />
</g>
<rect x="246.0" y="652.0" width="7" height="7" fill="#c0c000"/>
<text x="249.5" y="658.5" font-size="8" fill="#000" text-anchor="middle" font-family="Liberation Sans, sans-serif">3</text>
<rect x="232.0" y="680.0" width="7" height="7" fill="#c0c000"/>
<text x="235.5" y="686.5" font-size="8" fill="#000" text-anchor="middle" font-family="Liberation Sans, sans-serif">2</text>
<rect x="211.0" y="706.3" width="7" height="7" fill="#c0c000"/>
<text x="214.5" y="712.8" font-size="8" fill="#000" text-anchor="middle" font-family="Liberation Sans, sans-serif">1</text>
<rect x="67.5" y="607.5" width="43" height="17" fill="#000" stroke="#ffff00"/>
<text transform="translate(71.5,620.8) scale(0.9286,1)" font-size="14" fill="#ffff00" text-anchor="start" font-weight="normal" >CAPE</text>
<rect x="67.5" y="636.5" width="57" height="17" fill="#000" stroke="#ff8000"/>
<text x="71.5" y="649.9" font-size="14" fill="#ff8000" text-anchor="start" font-weight="normal" textLength="50.5" lengthAdjust="spacingAndGlyphs" >CINH * 5</text>
<rect x="625.5" y="700.5" width="30" height="17" fill="#000" stroke="#ff00ff"/>
<text x="629.0" y="714.3" font-size="14" fill="#ff00ff" text-anchor="start" font-weight="normal" textLength="23.5" lengthAdjust="spacingAndGlyphs" >LCL</text>
<text x="52.6" y="55.0" font-size="13.5" fill="#fff" text-anchor="end" font-weight="normal" textLength="20.4" lengthAdjust="spacingAndGlyphs" >100</text>
<text x="52.6" y="326.0" font-size="13.5" fill="#fff" text-anchor="end" font-weight="normal" textLength="20.4" lengthAdjust="spacingAndGlyphs" >200</text>
<text x="52.6" y="454.0" font-size="13.5" fill="#fff" text-anchor="end" font-weight="normal" textLength="20.4" lengthAdjust="spacingAndGlyphs" >300</text>
<text x="52.6" y="534.0" font-size="13.5" fill="#fff" text-anchor="end" font-weight="normal" textLength="20.4" lengthAdjust="spacingAndGlyphs" >400</text>
<text x="52.6" y="591.0" font-size="13.5" fill="#fff" text-anchor="end" font-weight="normal" textLength="20.4" lengthAdjust="spacingAndGlyphs" >500</text>
<text x="52.6" y="635.0" font-size="13.5" fill="#fff" text-anchor="end" font-weight="normal" textLength="20.4" lengthAdjust="spacingAndGlyphs" >600</text>
<text x="52.6" y="670.0" font-size="13.5" fill="#fff" text-anchor="end" font-weight="normal" textLength="20.4" lengthAdjust="spacingAndGlyphs" >700</text>
<text x="52.6" y="699.0" font-size="13.5" fill="#fff" text-anchor="end" font-weight="normal" textLength="20.4" lengthAdjust="spacingAndGlyphs" >800</text>
<text x="52.6" y="724.0" font-size="13.5" fill="#fff" text-anchor="end" font-weight="normal" textLength="20.4" lengthAdjust="spacingAndGlyphs" >900</text>
<text x="52.6" y="745.0" font-size="13.5" fill="#fff" text-anchor="end" font-weight="normal" textLength="27.2" lengthAdjust="spacingAndGlyphs" >1000</text>
<text x="670.6" y="50.0" font-size="13.5" fill="#fff" text-anchor="start" font-weight="normal" textLength="45.0" lengthAdjust="spacingAndGlyphs" >16501m</text>
<text x="670.6" y="321.0" font-size="13.5" fill="#fff" text-anchor="start" font-weight="normal" textLength="45.0" lengthAdjust="spacingAndGlyphs" >12012m</text>
<text x="670.6" y="449.0" font-size="13.5" fill="#fff" text-anchor="start" font-weight="normal" textLength="38.2" lengthAdjust="spacingAndGlyphs" >9381m</text>
<text x="670.6" y="529.0" font-size="13.5" fill="#fff" text-anchor="start" font-weight="normal" textLength="38.2" lengthAdjust="spacingAndGlyphs" >7363m</text>
<text x="670.6" y="586.0" font-size="13.5" fill="#fff" text-anchor="start" font-weight="normal" textLength="38.2" lengthAdjust="spacingAndGlyphs" >5707m</text>
<text x="670.6" y="630.0" font-size="13.5" fill="#fff" text-anchor="start" font-weight="normal" textLength="38.2" lengthAdjust="spacingAndGlyphs" >4299m</text>
<text x="670.6" y="665.0" font-size="13.5" fill="#fff" text-anchor="start" font-weight="normal" textLength="38.2" lengthAdjust="spacingAndGlyphs" >3066m</text>
<text x="670.6" y="694.0" font-size="13.5" fill="#fff" text-anchor="start" font-weight="normal" textLength="38.2" lengthAdjust="spacingAndGlyphs" >1991m</text>
<text x="670.6" y="719.0" font-size="13.5" fill="#fff" text-anchor="start" font-weight="normal" textLength="38.2" lengthAdjust="spacingAndGlyphs" >1007m</text>
<text x="58.85" y="768" font-size="13.5" fill="#fff" text-anchor="middle" font-weight="normal" textLength="18.9" lengthAdjust="spacingAndGlyphs" >-50</text>
<text x="61.5" y="806" font-size="13.5" fill="#fff" text-anchor="middle" font-weight="normal" textLength="6.8" lengthAdjust="spacingAndGlyphs" >0</text>
<text x="61.5" y="843" font-size="13.5" fill="#fff" text-anchor="middle" font-weight="normal" textLength="6.8" lengthAdjust="spacingAndGlyphs" >0</text>
<text x="118.85" y="768" font-size="13.5" fill="#fff" text-anchor="middle" font-weight="normal" textLength="18.9" lengthAdjust="spacingAndGlyphs" >-40</text>
<text x="121.5" y="806" font-size="13.5" fill="#fff" text-anchor="middle" font-weight="normal" textLength="13.6" lengthAdjust="spacingAndGlyphs" >10</text>
<text x="121.5" y="843" font-size="13.5" fill="#fff" text-anchor="middle" font-weight="normal" textLength="20.4" lengthAdjust="spacingAndGlyphs" >300</text>
<text x="178.85" y="768" font-size="13.5" fill="#fff" text-anchor="middle" font-weight="normal" textLength="18.9" lengthAdjust="spacingAndGlyphs" >-30</text>
<text x="181.5" y="806" font-size="13.5" fill="#fff" text-anchor="middle" font-weight="normal" textLength="13.6" lengthAdjust="spacingAndGlyphs" >20</text>
<text x="181.5" y="843" font-size="13.5" fill="#fff" text-anchor="middle" font-weight="normal" textLength="20.4" lengthAdjust="spacingAndGlyphs" >600</text>
<text x="238.85" y="768" font-size="13.5" fill="#fff" text-anchor="middle" font-weight="normal" textLength="18.9" lengthAdjust="spacingAndGlyphs" >-20</text>
<text x="241.5" y="806" font-size="13.5" fill="#fff" text-anchor="middle" font-weight="normal" textLength="13.6" lengthAdjust="spacingAndGlyphs" >30</text>
<text x="241.5" y="843" font-size="13.5" fill="#fff" text-anchor="middle" font-weight="normal" textLength="20.4" lengthAdjust="spacingAndGlyphs" >900</text>
<text x="298.85" y="768" font-size="13.5" fill="#fff" text-anchor="middle" font-weight="normal" textLength="18.9" lengthAdjust="spacingAndGlyphs" >-10</text>
<text x="301.5" y="806" font-size="13.5" fill="#fff" text-anchor="middle" font-weight="normal" textLength="13.6" lengthAdjust="spacingAndGlyphs" >40</text>
<text x="301.5" y="843" font-size="13.5" fill="#fff" text-anchor="middle" font-weight="normal" textLength="27.2" lengthAdjust="spacingAndGlyphs" >1200</text>
<text x="361.5" y="768" font-size="13.5" fill="#fff" text-anchor="middle" font-weight="normal" textLength="6.8" lengthAdjust="spacingAndGlyphs" >0</text>
<text x="361.5" y="806" font-size="13.5" fill="#fff" text-anchor="middle" font-weight="normal" textLength="13.6" lengthAdjust="spacingAndGlyphs" >50</text>
<text x="361.5" y="843" font-size="13.5" fill="#fff" text-anchor="middle" font-weight="normal" textLength="27.2" lengthAdjust="spacingAndGlyphs" >1500</text>
<text x="421.5" y="768" font-size="13.5" fill="#fff" text-anchor="middle" font-weight="normal" textLength="13.6" lengthAdjust="spacingAndGlyphs" >10</text>
<text x="421.5" y="806" font-size="13.5" fill="#fff" text-anchor="middle" font-weight="normal" textLength="13.6" lengthAdjust="spacingAndGlyphs" >60</text>
<text x="421.5" y="843" font-size="13.5" fill="#fff" text-anchor="middle" font-weight="normal" textLength="27.2" lengthAdjust="spacingAndGlyphs" >1800</text>
<text x="481.5" y="768" font-size="13.5" fill="#fff" text-anchor="middle" font-weight="normal" textLength="13.6" lengthAdjust="spacingAndGlyphs" >20</text>
<text x="481.5" y="806" font-size="13.5" fill="#fff" text-anchor="middle" font-weight="normal" textLength="13.6" lengthAdjust="spacingAndGlyphs" >70</text>
<text x="481.5" y="843" font-size="13.5" fill="#fff" text-anchor="middle" font-weight="normal" textLength="27.2" lengthAdjust="spacingAndGlyphs" >2100</text>
<text x="541.5" y="768" font-size="13.5" fill="#fff" text-anchor="middle" font-weight="normal" textLength="13.6" lengthAdjust="spacingAndGlyphs" >30</text>
<text x="541.5" y="806" font-size="13.5" fill="#fff" text-anchor="middle" font-weight="normal" textLength="13.6" lengthAdjust="spacingAndGlyphs" >80</text>
<text x="541.5" y="843" font-size="13.5" fill="#fff" text-anchor="middle" font-weight="normal" textLength="27.2" lengthAdjust="spacingAndGlyphs" >2400</text>
<text x="601.5" y="768" font-size="13.5" fill="#fff" text-anchor="middle" font-weight="normal" textLength="13.6" lengthAdjust="spacingAndGlyphs" >40</text>
<text x="601.5" y="806" font-size="13.5" fill="#fff" text-anchor="middle" font-weight="normal" textLength="13.6" lengthAdjust="spacingAndGlyphs" >90</text>
<text x="601.5" y="843" font-size="13.5" fill="#fff" text-anchor="middle" font-weight="normal" textLength="27.2" lengthAdjust="spacingAndGlyphs" >2700</text>
<text x="661.5" y="768" font-size="13.5" fill="#fff" text-anchor="middle" font-weight="normal" textLength="13.6" lengthAdjust="spacingAndGlyphs" >50</text>
<text x="661.5" y="806" font-size="13.5" fill="#fff" text-anchor="middle" font-weight="normal" textLength="20.4" lengthAdjust="spacingAndGlyphs" >100</text>
<text x="661.5" y="843" font-size="13.5" fill="#fff" text-anchor="middle" font-weight="normal" textLength="27.2" lengthAdjust="spacingAndGlyphs" >3000</text>
<path d="M61.5,788 v4 M61.5,826 v4 M121.5,788 v4 M121.5,826 v4 M181.5,788 v4 M181.5,826 v4 M241.5,788 v4 M241.5,826 v4 M301.5,788 v4 M301.5,826 v4 M361.5,788 v4 M361.5,826 v4 M421.5,788 v4 M421.5,826 v4 M481.5,788 v4 M481.5,826 v4 M541.5,788 v4 M541.5,826 v4 M601.5,788 v4 M601.5,826 v4 M661.5,788 v4 M661.5,826 v4" stroke="#fff"/>
<text x="58.85" y="880" font-size="13.5" fill="#fff" text-anchor="middle" font-weight="normal" textLength="25.7" lengthAdjust="spacingAndGlyphs" >-100</text>
<text x="133.85" y="880" font-size="13.5" fill="#fff" text-anchor="middle" font-weight="normal" textLength="18.9" lengthAdjust="spacingAndGlyphs" >-50</text>
<text x="211.5" y="880" font-size="13.5" fill="#fff" text-anchor="middle" font-weight="normal" textLength="6.8" lengthAdjust="spacingAndGlyphs" >0</text>
<text x="286.5" y="880" font-size="13.5" fill="#fff" text-anchor="middle" font-weight="normal" textLength="13.6" lengthAdjust="spacingAndGlyphs" >50</text>
<text x="361.5" y="880" font-size="13.5" fill="#fff" text-anchor="middle" font-weight="normal" textLength="20.4" lengthAdjust="spacingAndGlyphs" >100</text>
<text x="436.5" y="880" font-size="13.5" fill="#fff" text-anchor="middle" font-weight="normal" textLength="20.4" lengthAdjust="spacingAndGlyphs" >150</text>
<text x="511.5" y="880" font-size="13.5" fill="#fff" text-anchor="middle" font-weight="normal" textLength="20.4" lengthAdjust="spacingAndGlyphs" >200</text>
<text x="586.5" y="880" font-size="13.5" fill="#fff" text-anchor="middle" font-weight="normal" textLength="20.4" lengthAdjust="spacingAndGlyphs" >250</text>
<text x="661.5" y="880" font-size="13.5" fill="#fff" text-anchor="middle" font-weight="normal" textLength="20.4" lengthAdjust="spacingAndGlyphs" >300</text>
<path d="M61.5,864 v4 M136.5,864 v4 M211.5,864 v4 M286.5,864 v4 M361.5,864 v4 M436.5,864 v4 M511.5,864 v4 M586.5,864 v4 M661.5,864 v4" stroke="#fff"/>
<text x="362" y="781" font-size="14" fill="#fff" text-anchor="middle" font-weight="normal" textLength="170" lengthAdjust="spacingAndGlyphs" xml:space="preserve">Temperature, Dewpoint  [ °C ]</text>
<text x="360.3" y="819" font-size="14" fill="#fff" text-anchor="middle" font-weight="normal" textLength="106" lengthAdjust="spacingAndGlyphs" xml:space="preserve">Windspeed  [ knt ]</text>
<text x="361" y="857" font-size="14" fill="#fff" text-anchor="middle" font-weight="normal" textLength="136.4" lengthAdjust="spacingAndGlyphs" xml:space="preserve">CAPE, CINH * 5  [ J/kg ]</text>
<text x="361.3" y="893" font-size="14" fill="#fff" text-anchor="middle" font-weight="normal" textLength="203.4" lengthAdjust="spacingAndGlyphs" xml:space="preserve">Storm Relative Helicity  [ m^2/s^2 ]</text>
<text x="62.2" y="28.8" font-size="17" fill="#fff" text-anchor="start" font-weight="bold" textLength="114.6" lengthAdjust="spacingAndGlyphs" >Station: Zürich</text>
<text x="202.2" y="28.8" font-size="17" fill="#fff" text-anchor="start" font-weight="bold" textLength="129.3" lengthAdjust="spacingAndGlyphs" >Date: 14.06.2015</text>
<text x="353.0" y="28.8" font-size="17" fill="#fff" text-anchor="start" font-weight="bold" textLength="91.3" lengthAdjust="spacingAndGlyphs" >Time: 1110Z</text>
<line x1="761.5" y1="40" x2="761.5" y2="769" stroke="#00ff00"/>
<line x1="826.5" y1="40" x2="826.5" y2="769" stroke="#ff0080"/>
<text transform="translate(747.0,32) scale(0.9286,1)" font-size="14" fill="#00ff00" text-anchor="start" font-weight="bold" >OBS</text>
<text transform="translate(818.3,32) scale(0.9286,1)" font-size="14" fill="#ff0080" text-anchor="start" font-weight="bold" >SR</text>
<path d="M761.50,218.50 739.10,237.60" stroke="#fff" stroke-width="0.8" fill="none" />
<path d="M761.50,321.50 748.40,346.60" stroke="#fff" stroke-width="0.9" fill="none" />
<path d="M761.50,394.50 748.40,419.80" stroke="#fff" stroke-width="0.9" fill="none" />
<path d="M761.50,449.50 753.60,477.50" stroke="#fff" stroke-width="1.0" fill="none" />
<path d="M761.50,494.00 755.50,521.50" stroke="#fff" stroke-width="1.0" fill="none" />
<path d="M761.50,529.00 758.30,558.40" stroke="#fff" stroke-width="1.0" fill="none" />
<path d="M761.50,560.00 758.50,588.70" stroke="#fff" stroke-width="1.0" fill="none" />
<path d="M761.50,587.00 755.00,614.70" stroke="#fff" stroke-width="1.0" fill="none" />
<path d="M761.50,613.00 754.50,638.50" stroke="#fff" stroke-width="1.0" fill="none" />
<path d="M761.50,633.30 755.00,658.70" stroke="#fff" stroke-width="1.0" fill="none" />
<path d="M761.50,650.00 758.50,677.80" stroke="#fff" stroke-width="1.0" fill="none" />
<path d="M761.50,668.00 762.70,686.00" stroke="#fff" stroke-width="1.0" fill="none" />
<path d="M762.70,686.00 764.80,696.50" stroke="#fff" stroke-width="1.0" fill="none" />
<path d="M764.80,696.50 767.20,703.40" stroke="#fff" stroke-width="1.0" fill="none" />
<path d="M767.20,703.40 770.10,709.70" stroke="#fff" stroke-width="0.95" fill="none" />
<path d="M770.10,709.70 773.30,713.90" stroke="#fff" stroke-width="0.85" fill="none" />
<path d="M773.30,713.90 775.40,718.10" stroke="#fff" stroke-width="0.95" fill="none" />
<path d="M775.40,718.10 776.20,720.20" stroke="#fff" stroke-width="0.95" fill="none" />
<path d="M761.50,675.00 763.50,692.00" stroke="#fff" stroke-width="1.0" fill="none" />
<path d="M763.50,692.00 766.50,702.00" stroke="#fff" stroke-width="1.0" fill="none" />
<path d="M761.50,704.40 790.90,702.60" stroke="#fff" stroke-width="1.0" fill="none" />
<path d="M761.50,712.30 783.80,693.40" stroke="#fff" stroke-width="0.8" fill="none" />
<path d="M761.50,719.20 779.00,703.90" stroke="#fff" stroke-width="0.8" fill="none" />
<path d="M761.50,726.50 783.80,711.30" stroke="#fff" stroke-width="0.85" fill="none" />
<path d="M761.50,729.70 784.80,714.40" stroke="#fff" stroke-width="0.85" fill="none" />
<path d="M761.50,731.80 775.50,720.00" stroke="#fff" stroke-width="0.8" fill="none" />
<path d="M826.50,218.50 801.30,232.80" stroke="#fff" stroke-width="0.9" fill="none" />
<path d="M826.50,321.50 810.00,345.50" stroke="#fff" stroke-width="0.85" fill="none" />
<path d="M826.50,394.50 811.30,370.30" stroke="#fff" stroke-width="0.9" fill="none" />
<path d="M826.50,449.50 836.80,477.00" stroke="#fff" stroke-width="0.95" fill="none" />
<path d="M826.50,494.00 830.70,522.40" stroke="#fff" stroke-width="1.0" fill="none" />
<path d="M826.50,529.00 839.60,555.60" stroke="#fff" stroke-width="0.95" fill="none" />
<path d="M826.50,560.30 838.40,587.50" stroke="#fff" stroke-width="0.95" fill="none" />
<path d="M826.50,587.00 832.60,614.70" stroke="#fff" stroke-width="1.0" fill="none" />
<path d="M826.50,612.00 829.70,640.20" stroke="#fff" stroke-width="1.0" fill="none" />
<path d="M827.40,646.00 832.40,660.00" stroke="#fff" stroke-width="1.0" fill="none" />
<path d="M832.40,660.00 837.20,672.00" stroke="#fff" stroke-width="0.95" fill="none" />
<path d="M837.20,672.00 843.60,676.80" stroke="#fff" stroke-width="0.85" fill="none" />
<path d="M843.60,676.80 850.00,681.60" stroke="#fff" stroke-width="0.85" fill="none" />
<path d="M826.50,666.00 846.00,677.60" stroke="#fff" stroke-width="0.9" fill="none" />
<path d="M846.00,677.60 852.40,680.80" stroke="#fff" stroke-width="0.95" fill="none" />
<path d="M826.50,681.60 854.80,675.20" stroke="#fff" stroke-width="1.0" fill="none" />
<path d="M826.50,694.40 844.40,680.40" stroke="#fff" stroke-width="0.8" fill="none" />
<path d="M826.50,704.00 843.60,682.40" stroke="#fff" stroke-width="0.8" fill="none" />
<path d="M826.50,711.20 840.40,690.40" stroke="#fff" stroke-width="0.85" fill="none" />
<path d="M826.50,720.00 839.60,692.00" stroke="#fff" stroke-width="0.95" fill="none" />
<path d="M826.50,725.60 839.60,701.20" stroke="#fff" stroke-width="0.9" fill="none" />
<path d="M826.50,729.60 840.80,704.00" stroke="#fff" stroke-width="0.9" fill="none" />
<path d="M826.50,732.00 840.80,708.00" stroke="#fff" stroke-width="0.9" fill="none" />
<text transform="translate(894,39.7) scale(0.9286,1)" font-size="14" fill="#fff" text-anchor="start" font-weight="normal" >Parameter</text>
<line x1="894" y1="41.5" x2="953.6" y2="41.5" stroke="#fff"/>
<text transform="translate(1124,39.7) scale(0.9286,1)" font-size="14" fill="#fff" text-anchor="end" font-weight="normal" >Value LCL</text>
<line x1="1064" y1="41.5" x2="1124" y2="41.5" stroke="#fff"/>
<text transform="translate(1214,39.7) scale(0.9286,1)" font-size="14" fill="#fff" text-anchor="end" font-weight="normal" >Value CCL</text>
<line x1="1152" y1="41.5" x2="1214" y2="41.5" stroke="#fff"/>
<text transform="translate(1230,39.7) scale(0.9286,1)" font-size="14" fill="#fff" text-anchor="start" font-weight="normal" >Unit</text>
<line x1="1230" y1="41.5" x2="1253" y2="41.5" stroke="#fff"/>
<text transform="translate(894,61.8) scale(0.9286,1)" font-size="14" fill="#fff" text-anchor="start" font-weight="normal" >Convective Temperature:</text>
<text transform="translate(1124,61.8) scale(0.9286,1)" font-size="14" fill="#ffff00" text-anchor="end" font-weight="normal" >24.88</text>
<text transform="translate(1230,61.8) scale(0.9286,1)" font-size="14" fill="#fff" text-anchor="start" font-weight="normal" >[°C]</text>
<text transform="translate(894,78.8) scale(0.9286,1)" font-size="14" fill="#fff" text-anchor="start" font-weight="normal" >Snowfall Height:</text>
<text transform="translate(1124,78.8) scale(0.9286,1)" font-size="14" fill="#fff" text-anchor="end" font-weight="normal" >3268.25</text>
<text transform="translate(1230,78.8) scale(0.9286,1)" font-size="14" fill="#fff" text-anchor="start" font-weight="normal" >[m]</text>
<text transform="translate(894,103.4) scale(0.9286,1)" font-size="14" fill="#fff" text-anchor="start" font-weight="normal" >Parcels: Using 50mB mean layer LCL + CCL</text>
<line x1="894" y1="104.5" x2="1152.5" y2="104.5" stroke="#fff"/>
<text transform="translate(894,123.6) scale(0.9286,1)" font-size="14" fill="#fff" text-anchor="start" font-weight="normal" >Lifted Index:</text>
<text transform="translate(1124,123.6) scale(0.9286,1)" font-size="14" fill="#ff0000" text-anchor="end" font-weight="normal" >-6.21</text>
<text transform="translate(1214,123.6) scale(0.9286,1)" font-size="14" fill="#ff0000" text-anchor="end" font-weight="normal" >-6.62</text>
<text transform="translate(1230,123.6) scale(0.9286,1)" font-size="14" fill="#fff" text-anchor="start" font-weight="normal" >[°C]</text>
<text transform="translate(894,140.7) scale(0.9286,1)" font-size="14" fill="#fff" text-anchor="start" font-weight="normal" >CAPE:</text>
<text transform="translate(1124,140.7) scale(0.9286,1)" font-size="14" fill="#ff0000" text-anchor="end" font-weight="normal" >1722.52</text>
<text transform="translate(1214,140.7) scale(0.9286,1)" font-size="14" fill="#ff0000" text-anchor="end" font-weight="normal" >1901.10</text>
<text transform="translate(1230,140.7) scale(0.9286,1)" font-size="14" fill="#fff" text-anchor="start" font-weight="normal" >[J/kg]</text>
<text transform="translate(894,157.7) scale(0.9286,1)" font-size="14" fill="#fff" text-anchor="start" font-weight="normal" >CINH:</text>
<text transform="translate(1124,157.7) scale(0.9286,1)" font-size="14" fill="#ff0000" text-anchor="end" font-weight="normal" >3.91</text>
<text transform="translate(1230,157.7) scale(0.9286,1)" font-size="14" fill="#fff" text-anchor="start" font-weight="normal" >[J/kg]</text>
<text transform="translate(894,174.8) scale(0.9286,1)" font-size="14" fill="#fff" text-anchor="start" font-weight="normal" >CAPE Virt.:</text>
<text transform="translate(1124,174.8) scale(0.9286,1)" font-size="14" fill="#ff0000" text-anchor="end" font-weight="normal" >1822.72</text>
<text transform="translate(1214,174.8) scale(0.9286,1)" font-size="14" fill="#ff0000" text-anchor="end" font-weight="normal" >1835.36</text>
<text transform="translate(1230,174.8) scale(0.9286,1)" font-size="14" fill="#fff" text-anchor="start" font-weight="normal" >[J/kg]</text>
<text transform="translate(894,191.8) scale(0.9286,1)" font-size="14" fill="#fff" text-anchor="start" font-weight="normal" >CINH Virt.:</text>
<text transform="translate(1124,191.8) scale(0.9286,1)" font-size="14" fill="#ff0000" text-anchor="end" font-weight="normal" >0.69</text>
<text transform="translate(1230,191.8) scale(0.9286,1)" font-size="14" fill="#fff" text-anchor="start" font-weight="normal" >[J/kg]</text>
<text transform="translate(894,208.6) scale(0.9286,1)" font-size="14" fill="#fff" text-anchor="start" font-weight="normal" >DCAPE (LFS = 550mB):</text>
<text transform="translate(1124,208.6) scale(0.9286,1)" font-size="14" fill="#ffff00" text-anchor="end" font-weight="normal" >347.86</text>
<text transform="translate(1230,208.6) scale(0.9286,1)" font-size="14" fill="#fff" text-anchor="start" font-weight="normal" >[J/kg]</text>
<text transform="translate(894,225.6) scale(0.9286,1)" font-size="14" fill="#fff" text-anchor="start" font-weight="normal" >850-600 Lapse Rate:</text>
<text transform="translate(1124,225.6) scale(0.9286,1)" font-size="14" fill="#ffff00" text-anchor="end" font-weight="normal" >18.26</text>
<text transform="translate(1230,225.6) scale(0.9286,1)" font-size="14" fill="#fff" text-anchor="start" font-weight="normal" >[°C]</text>
<text transform="translate(894,242.7) scale(0.9286,1)" font-size="14" fill="#fff" text-anchor="start" font-weight="normal" >Fawbush-Miller Hail Size:</text>
<text transform="translate(1124,242.7) scale(0.9286,1)" font-size="14" fill="#ff0000" text-anchor="end" font-weight="normal" >2.5 - 3.8</text>
<text transform="translate(1230,242.7) scale(0.9286,1)" font-size="14" fill="#fff" text-anchor="start" font-weight="normal" >[cm]</text>
<text transform="translate(894,259.7) scale(0.9286,1)" font-size="14" fill="#fff" text-anchor="start" font-weight="normal" >Sig. Hail Param. (SHIP):</text>
<text transform="translate(1124,259.7) scale(0.9286,1)" font-size="14" fill="#ff0000" text-anchor="end" font-weight="normal" >1.01</text>
<text transform="translate(1230,259.7) scale(0.9286,1)" font-size="14" fill="#fff" text-anchor="start" font-weight="normal" >[1]</text>
<text transform="translate(894,276.8) scale(0.9286,1)" font-size="14" fill="#fff" text-anchor="start" font-weight="normal" >Max. Hail Size (new, new2, old):</text>
<text transform="translate(1098.8,276.8) scale(0.9286,1)" font-size="14" fill="#ffff00" text-anchor="start" font-weight="normal" >2.85</text>
<text transform="translate(1123.5,276.8) scale(0.9286,1)" font-size="14" fill="#fff" text-anchor="start" font-weight="normal" >,</text>
<text transform="translate(1135.8,276.8) scale(0.9286,1)" font-size="14" fill="#ff0000" text-anchor="start" font-weight="normal" >4.46</text>
<text transform="translate(1160.5,276.8) scale(0.9286,1)" font-size="14" fill="#fff" text-anchor="start" font-weight="normal" >,</text>
<text transform="translate(1173,276.8) scale(0.9286,1)" font-size="14" fill="#ffff00" text-anchor="start" font-weight="normal" >2.40</text>
<text transform="translate(1230,276.8) scale(0.9286,1)" font-size="14" fill="#fff" text-anchor="start" font-weight="normal" >[cm]</text>
<text transform="translate(894,296.7) scale(0.9286,1)" font-size="14" fill="#fff" text-anchor="start" font-weight="normal" >LCL / CCL (AGL):</text>
<text transform="translate(1124,296.7) scale(0.9286,1)" font-size="14" fill="#ffff00" text-anchor="end" font-weight="normal" >1010.73</text>
<text transform="translate(1214,296.7) scale(0.9286,1)" font-size="14" fill="#ffff00" text-anchor="end" font-weight="normal" >1110.70</text>
<text transform="translate(1230,296.7) scale(0.9286,1)" font-size="14" fill="#fff" text-anchor="start" font-weight="normal" >[m]</text>
<text transform="translate(894,313.7) scale(0.9286,1)" font-size="14" fill="#fff" text-anchor="start" font-weight="normal" >Convective Height:</text>
<text transform="translate(1124,313.7) scale(0.9286,1)" font-size="14" fill="#ff0000" text-anchor="end" font-weight="normal" >9.80</text>
<text transform="translate(1214,313.7) scale(0.9286,1)" font-size="14" fill="#ff0000" text-anchor="end" font-weight="normal" >9.79</text>
<text transform="translate(1230,313.7) scale(0.9286,1)" font-size="14" fill="#fff" text-anchor="start" font-weight="normal" >[km]</text>
<text transform="translate(894,339.0) scale(0.9286,1)" font-size="14" fill="#fff" text-anchor="start" font-weight="normal" >Convective Indices</text>
<line x1="894" y1="340.5" x2="999.3" y2="340.5" stroke="#fff"/>
<text transform="translate(894,358.9) scale(0.9286,1)" font-size="14" fill="#fff" text-anchor="start" font-weight="normal" >Showalter Index:</text>
<text transform="translate(1124,358.9) scale(0.9286,1)" font-size="14" fill="#ff0000" text-anchor="end" font-weight="normal" >-2.75</text>
<text transform="translate(1230,358.9) scale(0.9286,1)" font-size="14" fill="#fff" text-anchor="start" font-weight="normal" >[°C]</text>
<text transform="translate(894,375.9) scale(0.9286,1)" font-size="14" fill="#fff" text-anchor="start" font-weight="normal" >Modified Thompson Index:</text>
<text transform="translate(1124,375.9) scale(0.9286,1)" font-size="14" fill="#ff0000" text-anchor="end" font-weight="normal" >49.87</text>
<text transform="translate(1230,375.9) scale(0.9286,1)" font-size="14" fill="#fff" text-anchor="start" font-weight="normal" >[°C]</text>
<text transform="translate(894,392.8) scale(0.9286,1)" font-size="14" fill="#fff" text-anchor="start" font-weight="normal" >Total Totals Index:</text>
<text transform="translate(1124,392.8) scale(0.9286,1)" font-size="14" fill="#ff0000" text-anchor="end" font-weight="normal" >53.80</text>
<text transform="translate(1230,392.8) scale(0.9286,1)" font-size="14" fill="#fff" text-anchor="start" font-weight="normal" >[°C]</text>
<text transform="translate(894,409.7) scale(0.9286,1)" font-size="14" fill="#fff" text-anchor="start" font-weight="normal" >KO Index:</text>
<text transform="translate(1124,409.7) scale(0.9286,1)" font-size="14" fill="#ff0000" text-anchor="end" font-weight="normal" >-15.88</text>
<text transform="translate(1230,409.7) scale(0.9286,1)" font-size="14" fill="#fff" text-anchor="start" font-weight="normal" >[1]</text>
<text transform="translate(894,426.9) scale(0.9286,1)" font-size="14" fill="#fff" text-anchor="start" font-weight="normal" >Craven SigSvr / 1000:</text>
<text transform="translate(1124,426.9) scale(0.9286,1)" font-size="14" fill="#ff0000" text-anchor="end" font-weight="normal" >15.15</text>
<text transform="translate(1230,426.9) scale(0.9286,1)" font-size="14" fill="#fff" text-anchor="start" font-weight="normal" >[m^3/s^3]</text>
<text transform="translate(894,443.8) scale(0.9286,1)" font-size="14" fill="#fff" text-anchor="start" font-weight="normal" >SCP RM (new, old):</text>
<text transform="translate(1124,443.8) scale(0.9286,1)" font-size="14" fill="#ffff00" text-anchor="end" font-weight="normal" >0.51</text>
<text transform="translate(1124.5,443.8) scale(0.9286,1)" font-size="14" fill="#fff" text-anchor="start" font-weight="normal" >,</text>
<text transform="translate(1137,443.8) scale(0.9286,1)" font-size="14" fill="#00ff00" text-anchor="start" font-weight="normal" >0.22</text>
<text transform="translate(1230,443.8) scale(0.9286,1)" font-size="14" fill="#fff" text-anchor="start" font-weight="normal" >[1]</text>
<text transform="translate(894,460.7) scale(0.9286,1)" font-size="14" fill="#fff" text-anchor="start" font-weight="normal" >SCP LM (new, old):</text>
<text transform="translate(1124,460.7) scale(0.9286,1)" font-size="14" fill="#00ff00" text-anchor="end" font-weight="normal" >0.17</text>
<text transform="translate(1124.5,460.7) scale(0.9286,1)" font-size="14" fill="#fff" text-anchor="start" font-weight="normal" >,</text>
<text transform="translate(1137,460.7) scale(0.9286,1)" font-size="14" fill="#00ff00" text-anchor="start" font-weight="normal" >0.09</text>
<text transform="translate(1230,460.7) scale(0.9286,1)" font-size="14" fill="#fff" text-anchor="start" font-weight="normal" >[1]</text>
<text transform="translate(894,477.6) scale(0.9286,1)" font-size="14" fill="#fff" text-anchor="start" font-weight="normal" >STP (new, old):</text>
<text transform="translate(1124,477.6) scale(0.9286,1)" font-size="14" fill="#00ff00" text-anchor="end" font-weight="normal" >0.06</text>
<text transform="translate(1124.5,477.6) scale(0.9286,1)" font-size="14" fill="#fff" text-anchor="start" font-weight="normal" >,</text>
<text transform="translate(1137,477.6) scale(0.9286,1)" font-size="14" fill="#00ff00" text-anchor="start" font-weight="normal" >0.01</text>
<text transform="translate(1230,477.6) scale(0.9286,1)" font-size="14" fill="#fff" text-anchor="start" font-weight="normal" >[1]</text>
<text transform="translate(894,494.5) scale(0.9286,1)" font-size="14" fill="#fff" text-anchor="start" font-weight="normal" >SB STP (fix):</text>
<text transform="translate(1124,494.5) scale(0.9286,1)" font-size="14" fill="#00ff00" text-anchor="end" font-weight="normal" >0.03</text>
<text transform="translate(1230,494.5) scale(0.9286,1)" font-size="14" fill="#fff" text-anchor="start" font-weight="normal" >[1]</text>
<text transform="translate(894,511.5) scale(0.9286,1)" font-size="14" fill="#fff" text-anchor="start" font-weight="normal" >Derecho Comp Param:</text>
<text transform="translate(1124,511.5) scale(0.9286,1)" font-size="14" fill="#00ff00" text-anchor="end" font-weight="normal" >0.19</text>
<text transform="translate(1230,511.5) scale(0.9286,1)" font-size="14" fill="#fff" text-anchor="start" font-weight="normal" >[1]</text>
<text transform="translate(894,528.4) scale(0.9286,1)" font-size="14" fill="#fff" text-anchor="start" font-weight="normal" >MCS 18m/s (MMP, MSP):</text>
<text transform="translate(1124,528.4) scale(0.9286,1)" font-size="14" fill="#00ff00" text-anchor="end" font-weight="normal" >16.80</text>
<text transform="translate(1124.5,528.4) scale(0.9286,1)" font-size="14" fill="#fff" text-anchor="start" font-weight="normal" >,</text>
<text transform="translate(1137,528.4) scale(0.9286,1)" font-size="14" fill="#fff" text-anchor="start" font-weight="normal" >---</text>
<text transform="translate(1230,528.4) scale(0.9286,1)" font-size="14" fill="#fff" text-anchor="start" font-weight="normal" >[%]</text>
<text transform="translate(894,545.6) scale(0.9286,1)" font-size="14" fill="#fff" text-anchor="start" font-weight="normal" >Exp. Supercell Index CH:</text>
<text transform="translate(1124,545.6) scale(0.9286,1)" font-size="14" fill="#ffff00" text-anchor="end" font-weight="normal" >1.84</text>
<text transform="translate(1230,545.6) scale(0.9286,1)" font-size="14" fill="#fff" text-anchor="start" font-weight="normal" >[1]</text>
<text transform="translate(894,562.5) scale(0.9286,1)" font-size="14" fill="#fff" text-anchor="start" font-weight="normal" >SWISS 12 Index:</text>
<text transform="translate(1124,562.5) scale(0.9286,1)" font-size="14" fill="#ff0000" text-anchor="end" font-weight="normal" >-10.69</text>
<text transform="translate(1230,562.5) scale(0.9286,1)" font-size="14" fill="#fff" text-anchor="start" font-weight="normal" >[1]</text>
<text transform="translate(894,588.0) scale(0.9286,1)" font-size="14" fill="#fff" text-anchor="start" font-weight="normal" >Wind Parameters</text>
<line x1="894" y1="589.5" x2="994.7" y2="589.5" stroke="#fff"/>
<text transform="translate(894,607.7) scale(0.9286,1)" font-size="14" fill="#fff" text-anchor="start" font-weight="normal" >Storm Direction:</text>
<text transform="translate(1124,607.7) scale(0.9286,1)" font-size="14" fill="#fff" text-anchor="end" font-weight="normal" >202.39</text>
<text transform="translate(1230,607.7) scale(0.9286,1)" font-size="14" fill="#fff" text-anchor="start" font-weight="normal" >[°]</text>
<text transform="translate(894,624.6) scale(0.9286,1)" font-size="14" fill="#fff" text-anchor="start" font-weight="normal" >Storm Motion:</text>
<text transform="translate(1124,624.6) scale(0.9286,1)" font-size="14" fill="#00ff00" text-anchor="end" font-weight="normal" >9.56</text>
<text transform="translate(1230,624.6) scale(0.9286,1)" font-size="14" fill="#fff" text-anchor="start" font-weight="normal" >[knt]</text>
<text transform="translate(894,644.9) scale(0.9286,1)" font-size="14" fill="#fff" text-anchor="start" font-weight="normal" >SR Wind Sfc-2km:</text>
<text transform="translate(1124,644.9) scale(0.9286,1)" font-size="14" fill="#ffff00" text-anchor="end" font-weight="normal" >11.18</text>
<text transform="translate(1230,644.9) scale(0.9286,1)" font-size="14" fill="#fff" text-anchor="start" font-weight="normal" >[knt]</text>
<text transform="translate(894,661.8) scale(0.9286,1)" font-size="14" fill="#fff" text-anchor="start" font-weight="normal" >SR Wind 4km-6km:</text>
<text transform="translate(1124,661.8) scale(0.9286,1)" font-size="14" fill="#00ff00" text-anchor="end" font-weight="normal" >5.11</text>
<text transform="translate(1230,661.8) scale(0.9286,1)" font-size="14" fill="#fff" text-anchor="start" font-weight="normal" >[knt]</text>
<text transform="translate(894,678.7) scale(0.9286,1)" font-size="14" fill="#fff" text-anchor="start" font-weight="normal" >SR Wind 9km-11km:</text>
<text transform="translate(1124,678.7) scale(0.9286,1)" font-size="14" fill="#ff0000" text-anchor="end" font-weight="normal" >1.06</text>
<text transform="translate(1230,678.7) scale(0.9286,1)" font-size="14" fill="#fff" text-anchor="start" font-weight="normal" >[knt] HP</text>
<text transform="translate(894,698.7) scale(0.9286,1)" font-size="14" fill="#fff" text-anchor="start" font-weight="normal" >Effective Shear 6000:</text>
<text transform="translate(1124,698.7) scale(0.9286,1)" font-size="14" fill="#00ff00" text-anchor="end" font-weight="normal" >17.08</text>
<text transform="translate(1230,698.7) scale(0.9286,1)" font-size="14" fill="#fff" text-anchor="start" font-weight="normal" >[knt]</text>
<text transform="translate(894,718.7) scale(0.9286,1)" font-size="14" fill="#fff" text-anchor="start" font-weight="normal" >Bulk Richardson Number:</text>
<text transform="translate(1124,718.7) scale(0.9286,1)" font-size="14" fill="#ffff00" text-anchor="end" font-weight="normal" >104.39</text>
<text transform="translate(1214,718.7) scale(0.9286,1)" font-size="14" fill="#ffff00" text-anchor="end" font-weight="normal" >115.22</text>
<text transform="translate(1230,718.7) scale(0.9286,1)" font-size="14" fill="#fff" text-anchor="start" font-weight="normal" >[1]</text>
<text transform="translate(894,738.7) scale(0.9286,1)" font-size="14" fill="#fff" text-anchor="start" font-weight="normal" >3km Effective SRH:</text>
<text transform="translate(1124,738.7) scale(0.9286,1)" font-size="14" fill="#00ff00" text-anchor="end" font-weight="normal" >25.30</text>
<text transform="translate(1230,738.7) scale(0.9286,1)" font-size="14" fill="#fff" text-anchor="start" font-weight="normal" >[m^2/s^2]</text>
<text transform="translate(894,755.9) scale(0.9286,1)" font-size="14" fill="#fff" text-anchor="start" font-weight="normal" >Max 3km SRH (Sfc-2km):</text>
<text transform="translate(1124,755.9) scale(0.9286,1)" font-size="14" fill="#00ff00" text-anchor="end" font-weight="normal" >30.05</text>
<text transform="translate(1230,755.9) scale(0.9286,1)" font-size="14" fill="#fff" text-anchor="start" font-weight="normal" >[m^2/s^2]</text>
<text transform="translate(894,772.8) scale(0.9286,1)" font-size="14" fill="#fff" text-anchor="start" font-weight="normal" >Max 3km SRH Level AGL:</text>
<text transform="translate(1124,772.8) scale(0.9286,1)" font-size="14" fill="#00ff00" text-anchor="end" font-weight="normal" >887.00</text>
<text transform="translate(1230,772.8) scale(0.9286,1)" font-size="14" fill="#fff" text-anchor="start" font-weight="normal" >[m]</text>
<text transform="translate(894,792.8) scale(0.9286,1)" font-size="14" fill="#fff" text-anchor="start" font-weight="normal" >3km Energy Helicity Index:</text>
<text transform="translate(1124,792.8) scale(0.9286,1)" font-size="14" fill="#00ff00" text-anchor="end" font-weight="normal" >0.27</text>
<text transform="translate(1214,792.8) scale(0.9286,1)" font-size="14" fill="#00ff00" text-anchor="end" font-weight="normal" >0.30</text>
<text transform="translate(1230,792.8) scale(0.9286,1)" font-size="14" fill="#fff" text-anchor="start" font-weight="normal" >[1]</text>
<text transform="translate(894,810.0) scale(0.9286,1)" font-size="14" fill="#fff" text-anchor="start" font-weight="normal" >3km Vorticity Gen. Pot.:</text>
<text transform="translate(1124,810.0) scale(0.9286,1)" font-size="14" fill="#00ff00" text-anchor="end" font-weight="normal" >0.11</text>
<text transform="translate(1214,810.0) scale(0.9286,1)" font-size="14" fill="#00ff00" text-anchor="end" font-weight="normal" >0.12</text>
<text transform="translate(1230,810.0) scale(0.9286,1)" font-size="14" fill="#fff" text-anchor="start" font-weight="normal" >[m/s^2]</text>
<rect x="729" y="827" width="15" height="8" fill="#ff0000"/>
<text transform="translate(753,836) scale(0.9286,1)" font-size="14" fill="#ff0000" text-anchor="start" font-weight="normal" >Temperature Profile</text>
<rect x="729" y="847" width="15" height="8" fill="#00ffff"/>
<text transform="translate(753,856) scale(0.9286,1)" font-size="14" fill="#00ffff" text-anchor="start" font-weight="normal" >Dewpoint Profile</text>
<rect x="729" y="867" width="15" height="8" fill="#00ff00"/>
<text transform="translate(753,876) scale(0.9286,1)" font-size="14" fill="#00ff00" text-anchor="start" font-weight="normal" >OBS Windspeed Profile</text>
<rect x="729" y="887" width="15" height="8" fill="#ff0080"/>
<text transform="translate(753,896) scale(0.9286,1)" font-size="14" fill="#ff0080" text-anchor="start" font-weight="normal" >SR Windspeed Profile</text>
<rect x="729" y="907" width="15" height="8" fill="#c0c000"/>
<text transform="translate(753,916) scale(0.9286,1)" font-size="14" fill="#c0c000" text-anchor="start" font-weight="normal" >Sfc-3km Storm Relative Helicity Profile</text>
<rect x="729" y="927" width="15" height="8" fill="#403c00"/>
<text transform="translate(753,936) scale(0.9286,1)" font-size="14" fill="#403c00" text-anchor="start" font-weight="normal" >Effective Layer (CAPE &gt;= 100 J/kg)</text>
<rect x="1079" y="827" width="15" height="8" fill="#00ff00"/>
<text transform="translate(1103.5,836) scale(0.9286,1)" font-size="14" fill="#00ff00" text-anchor="start" font-weight="normal" >No / Non Severe Thunderstorms</text>
<rect x="1079" y="847" width="15" height="8" fill="#ffff00"/>
<text transform="translate(1103.5,856) scale(0.9286,1)" font-size="14" fill="#ffff00" text-anchor="start" font-weight="normal" >Scattered / Moderate Thunderstorms</text>
<rect x="1079" y="867" width="15" height="8" fill="#ff0000"/>
<text transform="translate(1103.5,876) scale(0.9286,1)" font-size="14" fill="#ff0000" text-anchor="start" font-weight="normal" >Widespread / Severe Thunderstorms</text>
</svg>
</body></html>
